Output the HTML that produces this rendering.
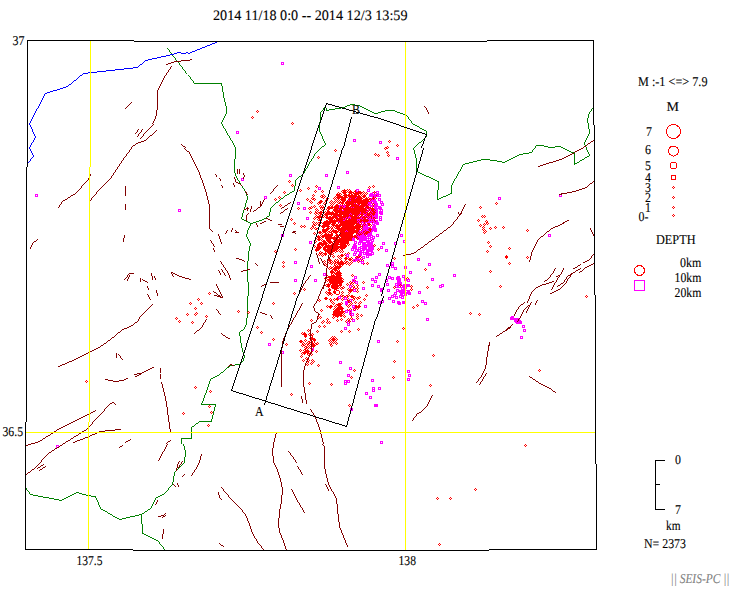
<!DOCTYPE html><html><head><meta charset="utf-8"><title>SEIS-PC</title>
<style>html,body{margin:0;padding:0;background:#fff}body{width:751px;height:593px;overflow:hidden;position:relative;font-family:"Liberation Serif",serif}svg{position:absolute;left:0;top:0}text{font-family:"Liberation Serif",serif;fill:#000;stroke:#000;stroke-width:0.1px;text-rendering:geometricPrecision}</style></head><body>
<svg width="751" height="593" viewBox="0 0 751 593">
<defs><path id="d" d="M0-1h1v1h-1zM-1 0h1v1h-1zM1 0h1v1h-1zM0 1h1v1h-1z"/><path id="s" d="M-1-1h3v1h-3zM-1 1h3v1h-3zM-1 0h1v1h-1zM1 0h1v1h-1z"/></defs>
<rect width="751" height="593" fill="#fff"/>
<path d="M30 494h3v1h-3zM33 495h5v1h-5zM38 496h5v1h-5zM43 497h6v1h-6zM49 498h5v1h-5zM54 499h5v1h-5zM59 500h3v1h-3zM62 499h2v1h-2zM64 498h2v1h-2zM66 497h2v1h-2zM68 496h2v1h-2zM70 495h2v1h-2zM72 494h2v1h-2zM74 493h2v1h-2zM76 492h3v1h-3zM79 493h3v1h-3zM82 494h4v1h-4zM86 495h5v1h-5zM91 496h5v1h-5zM101 509h2v1h-2zM103 510h2v1h-2zM105 511h2v1h-2zM108 513h2v1h-2zM110 514h2v1h-2zM113 516h2v1h-2zM115 517h2v1h-2zM117 518h2v1h-2zM119 519h3v1h-3zM122 518h4v1h-4zM126 517h4v1h-4zM130 516h5v1h-5zM135 515h4v1h-4zM139 514h3v1h-3zM142 513h2v1h-2zM142 533h2v1h-2zM144 534h2v1h-2zM145 511h2v1h-2zM146 535h2v1h-2zM148 509h2v1h-2zM148 536h2v1h-2zM150 537h2v1h-2zM152 538h2v1h-2zM154 539h2v1h-2zM156 497h2v1h-2zM156 540h2v1h-2zM158 496h2v1h-2zM160 495h2v1h-2zM162 494h2v1h-2zM181 438h11v1h-11zM192 426h2v1h-2zM194 83h28v1h-28zM196 423h2v1h-2zM199 421h13v1h-13zM201 404h15v1h-15zM211 378h2v1h-2zM213 377h2v1h-2zM215 376h2v1h-2zM217 375h2v1h-2zM221 372h2v1h-2zM227 367h2v1h-2zM230 365h5v1h-5zM235 364h5v1h-5zM241 330h2v1h-2zM242 219h2v1h-2zM244 220h2v1h-2zM246 221h2v1h-2zM248 222h2v1h-2zM250 223h3v1h-3zM253 222h3v1h-3zM256 221h3v1h-3zM259 220h3v1h-3zM262 219h2v1h-2zM264 218h2v1h-2zM267 216h2v1h-2zM276 202h2v1h-2zM281 198h2v1h-2zM285 195h2v1h-2zM287 194h2v1h-2zM290 192h2v1h-2zM292 191h2v1h-2zM299 176h2v1h-2zM322 146h2v1h-2zM324 107h2v1h-2zM326 110h3v1h-3zM329 109h6v1h-6zM335 108h6v1h-6zM341 107h4v1h-4zM345 106h2v1h-2zM347 105h3v1h-3zM350 104h5v1h-5zM355 105h5v1h-5zM360 106h2v1h-2zM362 107h2v1h-2zM364 108h2v1h-2zM366 109h2v1h-2zM368 110h2v1h-2zM370 111h2v1h-2zM372 112h2v1h-2zM374 113h4v1h-4zM378 112h3v1h-3zM381 111h4v1h-4zM385 110h10v1h-10zM395 111h2v1h-2zM397 112h3v1h-3zM400 113h3v1h-3zM403 114h2v1h-2zM405 115h2v1h-2zM413 124h2v1h-2zM415 125h2v1h-2zM416 171h2v1h-2zM417 126h2v1h-2zM418 172h2v1h-2zM419 142h2v1h-2zM420 128h2v1h-2zM420 173h2v1h-2zM422 129h2v1h-2zM422 174h2v1h-2zM424 130h2v1h-2zM424 175h2v1h-2zM426 176h3v1h-3zM429 177h2v1h-2zM431 178h2v1h-2zM433 179h2v1h-2zM435 180h2v1h-2zM437 181h2v1h-2zM437 199h2v1h-2zM439 198h2v1h-2zM441 197h2v1h-2zM443 196h3v1h-3zM446 195h2v1h-2zM448 194h2v1h-2zM450 193h2v1h-2zM463 164h2v1h-2zM465 163h4v1h-4zM469 162h4v1h-4zM473 161h4v1h-4zM477 160h4v1h-4zM481 159h9v1h-9zM490 160h7v1h-7zM497 161h5v1h-5zM502 162h3v1h-3zM505 161h2v1h-2zM507 160h2v1h-2zM509 159h2v1h-2zM511 158h2v1h-2zM513 157h2v1h-2zM515 156h2v1h-2zM517 155h2v1h-2zM519 154h4v1h-4zM523 153h6v1h-6zM529 152h3v1h-3zM536 145h8v1h-8zM544 146h4v1h-4zM548 147h7v1h-7zM555 146h6v1h-6zM561 147h2v1h-2zM563 148h2v1h-2zM565 149h2v1h-2zM567 150h2v1h-2zM569 151h2v1h-2zM571 152h4v1h-4zM574 163h3v1h-3zM577 162h2v1h-2zM580 160h2v1h-2zM582 159h2v1h-2zM585 157h2v1h-2zM587 156h2v1h-2zM25 487h1v1h-1zM26 488h1v2h-1zM27 490h1v1h-1zM28 491h1v1h-1zM29 492h1v2h-1zM95 497h1v1h-1zM96 498h1v2h-1zM97 500h1v2h-1zM98 502h1v3h-1zM99 505h1v2h-1zM100 507h1v2h-1zM107 512h1v1h-1zM112 515h1v1h-1zM141 515h1v9h-1zM142 524h1v9h-1zM144 512h1v1h-1zM147 510h1v1h-1zM150 508h1v1h-1zM151 506h1v2h-1zM152 504h1v2h-1zM153 502h1v2h-1zM154 500h1v2h-1zM155 498h1v2h-1zM158 541h1v1h-1zM159 542h1v2h-1zM160 544h1v1h-1zM161 545h1v1h-1zM162 546h1v1h-1zM163 547h1v2h-1zM164 493h1v1h-1zM164 549h1v1h-1zM165 492h1v1h-1zM165 550h1v1h-1zM166 491h1v1h-1zM167 48h1v1h-1zM167 490h1v1h-1zM168 49h1v1h-1zM168 488h1v2h-1zM169 50h1v2h-1zM169 487h1v1h-1zM170 52h1v1h-1zM170 486h1v1h-1zM171 53h1v1h-1zM171 485h1v1h-1zM172 54h1v2h-1zM172 482h1v3h-1zM173 56h1v1h-1zM173 476h1v6h-1zM174 57h1v1h-1zM174 472h1v4h-1zM175 58h1v2h-1zM175 471h1v1h-1zM176 60h1v1h-1zM176 470h1v1h-1zM177 61h1v1h-1zM177 469h1v1h-1zM178 62h1v1h-1zM178 468h1v1h-1zM179 63h1v2h-1zM179 467h1v1h-1zM180 65h1v1h-1zM180 466h1v1h-1zM181 66h1v1h-1zM181 439h1v5h-1zM181 465h1v1h-1zM182 67h1v2h-1zM182 464h1v1h-1zM183 69h1v1h-1zM183 444h1v2h-1zM183 463h1v1h-1zM184 70h1v1h-1zM184 446h1v4h-1zM184 457h1v6h-1zM185 71h1v2h-1zM185 450h1v7h-1zM186 73h1v1h-1zM188 75h1v1h-1zM189 76h1v1h-1zM190 77h1v2h-1zM191 79h1v1h-1zM191 427h1v11h-1zM192 80h1v1h-1zM193 81h1v2h-1zM194 425h1v1h-1zM195 424h1v1h-1zM198 422h1v1h-1zM201 403h1v1h-1zM202 401h1v2h-1zM203 398h1v3h-1zM204 395h1v3h-1zM205 393h1v2h-1zM206 390h1v3h-1zM207 387h1v3h-1zM208 384h1v3h-1zM209 381h1v3h-1zM210 379h1v2h-1zM211 419h1v2h-1zM212 415h1v4h-1zM213 411h1v4h-1zM214 407h1v4h-1zM215 405h1v2h-1zM219 374h1v1h-1zM220 373h1v1h-1zM221 84h1v2h-1zM221 122h1v2h-1zM222 86h1v6h-1zM222 120h1v2h-1zM222 124h1v2h-1zM223 92h1v6h-1zM223 118h1v2h-1zM223 126h1v2h-1zM223 371h1v1h-1zM224 98h1v4h-1zM224 116h1v2h-1zM224 128h1v1h-1zM224 370h1v1h-1zM225 102h1v4h-1zM225 114h1v2h-1zM225 129h1v2h-1zM225 369h1v1h-1zM226 106h1v8h-1zM226 131h1v2h-1zM226 368h1v1h-1zM227 133h1v2h-1zM228 135h1v1h-1zM229 136h1v2h-1zM229 366h1v1h-1zM230 138h1v2h-1zM231 140h1v1h-1zM232 141h1v2h-1zM233 143h1v2h-1zM234 145h1v2h-1zM234 159h1v14h-1zM235 147h1v12h-1zM235 173h1v3h-1zM236 176h1v2h-1zM237 178h1v2h-1zM238 180h1v1h-1zM239 181h1v2h-1zM239 332h1v4h-1zM240 183h1v2h-1zM240 331h1v1h-1zM240 336h1v7h-1zM240 363h1v1h-1zM241 185h1v1h-1zM241 217h1v2h-1zM241 343h1v5h-1zM241 362h1v1h-1zM242 186h1v2h-1zM242 213h1v4h-1zM242 348h1v4h-1zM242 361h1v1h-1zM243 188h1v1h-1zM243 210h1v3h-1zM243 329h1v1h-1zM243 352h1v3h-1zM243 358h1v3h-1zM244 189h1v2h-1zM244 207h1v3h-1zM244 327h1v2h-1zM244 355h1v3h-1zM245 191h1v2h-1zM245 203h1v4h-1zM245 325h1v2h-1zM246 193h1v3h-1zM246 200h1v3h-1zM246 234h1v3h-1zM246 318h1v7h-1zM247 196h1v4h-1zM247 230h1v4h-1zM247 237h1v2h-1zM247 261h1v21h-1zM247 296h1v22h-1zM248 228h1v2h-1zM248 239h1v2h-1zM248 251h1v10h-1zM248 282h1v14h-1zM249 226h1v2h-1zM249 241h1v2h-1zM249 246h1v5h-1zM250 224h1v2h-1zM250 243h1v3h-1zM266 217h1v1h-1zM269 212h1v4h-1zM270 208h1v4h-1zM271 207h1v1h-1zM272 206h1v1h-1zM273 205h1v1h-1zM274 204h1v1h-1zM275 203h1v1h-1zM278 201h1v1h-1zM279 200h1v1h-1zM280 199h1v1h-1zM283 197h1v1h-1zM284 196h1v1h-1zM289 193h1v1h-1zM294 186h1v5h-1zM295 180h1v6h-1zM296 179h1v1h-1zM297 178h1v1h-1zM298 177h1v1h-1zM301 175h1v1h-1zM302 174h1v1h-1zM303 173h1v1h-1zM304 171h1v2h-1zM305 169h1v2h-1zM306 168h1v1h-1zM307 166h1v2h-1zM308 164h1v2h-1zM309 162h1v2h-1zM310 161h1v1h-1zM311 159h1v2h-1zM312 158h1v1h-1zM313 156h1v2h-1zM314 154h1v2h-1zM315 153h1v1h-1zM316 152h1v1h-1zM317 151h1v1h-1zM318 150h1v1h-1zM319 122h1v10h-1zM319 149h1v1h-1zM320 112h1v10h-1zM320 132h1v2h-1zM320 148h1v1h-1zM321 111h1v1h-1zM321 134h1v2h-1zM321 147h1v1h-1zM322 110h1v1h-1zM322 136h1v3h-1zM323 108h1v2h-1zM323 139h1v2h-1zM324 141h1v2h-1zM324 145h1v1h-1zM325 106h1v1h-1zM325 143h1v2h-1zM326 108h1v2h-1zM407 116h1v1h-1zM408 117h1v2h-1zM409 119h1v1h-1zM410 120h1v1h-1zM411 121h1v2h-1zM412 123h1v1h-1zM413 148h1v2h-1zM414 147h1v1h-1zM414 150h1v4h-1zM415 146h1v1h-1zM415 154h1v4h-1zM416 145h1v1h-1zM416 158h1v13h-1zM417 144h1v1h-1zM418 143h1v1h-1zM419 127h1v1h-1zM421 141h1v1h-1zM422 140h1v1h-1zM423 139h1v1h-1zM424 138h1v1h-1zM425 137h1v1h-1zM426 131h1v6h-1zM437 190h1v9h-1zM438 182h1v8h-1zM451 185h1v8h-1zM452 183h1v2h-1zM453 181h1v2h-1zM454 179h1v2h-1zM455 178h1v1h-1zM456 176h1v2h-1zM457 174h1v2h-1zM458 172h1v2h-1zM459 171h1v1h-1zM460 169h1v2h-1zM461 167h1v2h-1zM462 165h1v2h-1zM532 150h1v2h-1zM533 149h1v1h-1zM534 148h1v1h-1zM535 146h1v2h-1zM574 153h1v10h-1zM574 164h1v1h-1zM579 161h1v1h-1zM584 142h1v3h-1zM584 158h1v1h-1zM585 140h1v2h-1zM585 145h1v2h-1zM586 138h1v2h-1zM586 147h1v3h-1zM587 118h1v5h-1zM587 136h1v2h-1zM587 150h1v2h-1zM588 114h1v4h-1zM588 123h1v6h-1zM588 134h1v2h-1zM588 152h1v2h-1zM589 112h1v2h-1zM589 129h1v5h-1zM589 154h1v2h-1zM590 111h1v1h-1zM591 109h1v2h-1zM592 108h1v1h-1zM593 107h1v1h-1z" fill="#008000" shape-rendering="crispEdges"/>
<path d="M45 93h2v1h-2zM47 92h3v1h-3zM50 91h3v1h-3zM53 90h4v1h-4zM57 89h3v1h-3zM60 88h3v1h-3zM63 87h3v1h-3zM66 86h2v1h-2zM69 84h2v1h-2zM74 80h2v1h-2zM80 75h2v1h-2zM83 73h5v1h-5zM88 72h9v1h-9zM97 71h9v1h-9zM106 70h9v1h-9zM115 69h9v1h-9zM124 68h9v1h-9zM133 67h5v1h-5zM140 64h2v1h-2zM145 60h3v1h-3zM148 59h4v1h-4zM152 58h5v1h-5zM157 57h4v1h-4zM161 56h5v1h-5zM166 55h4v1h-4zM170 54h4v1h-4zM174 53h3v1h-3zM177 52h4v1h-4zM181 53h5v1h-5zM186 52h2v1h-2zM188 53h2v1h-2zM190 52h2v1h-2zM192 51h3v1h-3zM195 50h2v1h-2zM197 49h3v1h-3zM200 48h2v1h-2zM202 47h3v1h-3zM205 46h2v1h-2zM207 45h3v1h-3zM210 44h2v1h-2zM212 43h3v1h-3zM215 42h2v1h-2zM217 41h2v1h-2zM27 163h1v1h-1zM28 162h1v1h-1zM29 123h1v2h-1zM29 147h1v2h-1zM29 161h1v1h-1zM30 121h1v2h-1zM30 125h1v2h-1zM30 145h1v2h-1zM30 149h1v2h-1zM30 159h1v2h-1zM31 119h1v2h-1zM31 127h1v2h-1zM31 143h1v2h-1zM31 151h1v2h-1zM31 158h1v1h-1zM32 117h1v2h-1zM32 129h1v3h-1zM32 142h1v1h-1zM32 153h1v2h-1zM32 157h1v1h-1zM33 115h1v2h-1zM33 132h1v2h-1zM33 140h1v2h-1zM33 155h1v2h-1zM34 113h1v2h-1zM34 134h1v2h-1zM34 138h1v2h-1zM35 111h1v2h-1zM35 136h1v2h-1zM36 109h1v2h-1zM37 108h1v1h-1zM38 106h1v2h-1zM39 104h1v2h-1zM40 102h1v2h-1zM41 100h1v2h-1zM42 98h1v2h-1zM43 96h1v2h-1zM44 94h1v2h-1zM68 85h1v1h-1zM71 83h1v1h-1zM72 82h1v1h-1zM73 81h1v1h-1zM76 79h1v1h-1zM77 78h1v1h-1zM78 77h1v1h-1zM79 76h1v1h-1zM82 74h1v1h-1zM138 66h1v1h-1zM139 65h1v1h-1zM142 63h1v1h-1zM143 62h1v1h-1zM144 61h1v1h-1z" fill="#0000ff" shape-rendering="crispEdges"/>
<g fill="#ff0000"><use href="#d" x="344" y="191"/><use href="#d" x="352" y="230"/><use href="#d" x="347" y="202"/><use href="#d" x="368" y="201"/><use href="#d" x="365" y="228"/><use href="#d" x="358" y="212"/><use href="#d" x="350" y="191"/><use href="#d" x="358" y="230"/><use href="#d" x="334" y="238"/><use href="#d" x="339" y="201"/><use href="#d" x="336" y="243"/><use href="#d" x="326" y="229"/><use href="#d" x="324" y="248"/><use href="#d" x="345" y="233"/><use href="#d" x="329" y="249"/><use href="#d" x="363" y="204"/><use href="#d" x="333" y="208"/><use href="#d" x="344" y="244"/><use href="#d" x="358" y="197"/><use href="#d" x="334" y="287"/><use href="#d" x="337" y="230"/><use href="#d" x="328" y="207"/><use href="#d" x="328" y="251"/><use href="#d" x="324" y="196"/><use href="#d" x="350" y="230"/><use href="#d" x="339" y="208"/><use href="#d" x="338" y="193"/><use href="#d" x="302" y="345"/><use href="#d" x="336" y="281"/><use href="#d" x="338" y="247"/><use href="#d" x="329" y="222"/><use href="#d" x="334" y="215"/><use href="#d" x="340" y="313"/><use href="#d" x="367" y="220"/><use href="#d" x="369" y="215"/><use href="#d" x="359" y="200"/><use href="#d" x="340" y="205"/><use href="#d" x="342" y="229"/><use href="#d" x="324" y="222"/><use href="#d" x="340" y="215"/><use href="#d" x="355" y="216"/><use href="#d" x="346" y="229"/><use href="#d" x="357" y="220"/><use href="#d" x="352" y="208"/><use href="#d" x="346" y="240"/><use href="#d" x="326" y="298"/><use href="#d" x="339" y="221"/><use href="#d" x="305" y="352"/><use href="#d" x="367" y="230"/><use href="#d" x="332" y="341"/><use href="#d" x="340" y="203"/><use href="#d" x="337" y="306"/><use href="#d" x="357" y="195"/><use href="#d" x="353" y="232"/><use href="#d" x="306" y="358"/><use href="#d" x="323" y="229"/><use href="#d" x="344" y="198"/><use href="#d" x="335" y="215"/><use href="#d" x="356" y="194"/><use href="#d" x="341" y="331"/><use href="#d" x="353" y="221"/><use href="#d" x="337" y="276"/><use href="#d" x="340" y="217"/><use href="#d" x="346" y="210"/><use href="#d" x="354" y="202"/><use href="#d" x="336" y="285"/><use href="#d" x="324" y="263"/><use href="#d" x="340" y="215"/><use href="#d" x="329" y="237"/><use href="#d" x="359" y="208"/><use href="#d" x="333" y="286"/><use href="#d" x="363" y="233"/><use href="#d" x="339" y="264"/><use href="#d" x="368" y="223"/><use href="#d" x="354" y="196"/><use href="#d" x="344" y="316"/><use href="#d" x="334" y="245"/><use href="#d" x="345" y="246"/><use href="#d" x="351" y="227"/><use href="#d" x="330" y="247"/><use href="#d" x="340" y="205"/><use href="#d" x="359" y="197"/><use href="#d" x="371" y="218"/><use href="#d" x="312" y="338"/><use href="#d" x="329" y="247"/><use href="#d" x="352" y="223"/><use href="#d" x="331" y="213"/><use href="#d" x="321" y="201"/><use href="#d" x="370" y="205"/><use href="#d" x="303" y="343"/><use href="#d" x="339" y="223"/><use href="#d" x="344" y="223"/><use href="#d" x="349" y="217"/><use href="#d" x="362" y="217"/><use href="#d" x="335" y="311"/><use href="#d" x="347" y="203"/><use href="#d" x="350" y="209"/><use href="#d" x="374" y="213"/><use href="#d" x="320" y="213"/><use href="#d" x="375" y="198"/><use href="#d" x="358" y="223"/><use href="#d" x="335" y="210"/><use href="#d" x="330" y="307"/><use href="#d" x="336" y="286"/><use href="#d" x="336" y="212"/><use href="#d" x="325" y="234"/><use href="#d" x="344" y="195"/><use href="#d" x="350" y="237"/><use href="#d" x="333" y="242"/><use href="#d" x="302" y="353"/><use href="#d" x="353" y="229"/><use href="#d" x="345" y="245"/><use href="#d" x="350" y="237"/><use href="#d" x="370" y="225"/><use href="#d" x="342" y="243"/><use href="#d" x="355" y="193"/><use href="#d" x="344" y="220"/><use href="#d" x="329" y="218"/><use href="#d" x="347" y="212"/><use href="#d" x="356" y="232"/><use href="#d" x="339" y="280"/><use href="#d" x="353" y="230"/><use href="#d" x="335" y="231"/><use href="#d" x="310" y="212"/><use href="#d" x="328" y="252"/><use href="#d" x="304" y="350"/><use href="#d" x="341" y="208"/><use href="#d" x="357" y="200"/><use href="#d" x="338" y="313"/><use href="#d" x="344" y="224"/><use href="#d" x="342" y="217"/><use href="#d" x="357" y="195"/><use href="#d" x="344" y="198"/><use href="#d" x="335" y="275"/><use href="#d" x="360" y="236"/><use href="#d" x="342" y="199"/><use href="#d" x="340" y="251"/><use href="#d" x="329" y="340"/><use href="#d" x="318" y="217"/><use href="#d" x="363" y="201"/><use href="#d" x="313" y="345"/><use href="#d" x="327" y="209"/><use href="#d" x="338" y="270"/><use href="#d" x="355" y="191"/><use href="#d" x="346" y="230"/><use href="#d" x="366" y="208"/><use href="#d" x="356" y="228"/><use href="#d" x="334" y="214"/><use href="#d" x="344" y="230"/><use href="#d" x="360" y="208"/><use href="#d" x="366" y="207"/><use href="#d" x="335" y="275"/><use href="#d" x="368" y="224"/><use href="#d" x="328" y="235"/><use href="#d" x="358" y="220"/><use href="#d" x="301" y="356"/><use href="#d" x="351" y="215"/><use href="#d" x="338" y="241"/><use href="#d" x="343" y="200"/><use href="#d" x="342" y="308"/><use href="#d" x="327" y="228"/><use href="#d" x="372" y="206"/><use href="#d" x="337" y="195"/><use href="#d" x="336" y="215"/><use href="#d" x="335" y="248"/><use href="#d" x="332" y="212"/><use href="#d" x="328" y="234"/><use href="#d" x="350" y="215"/><use href="#d" x="337" y="219"/><use href="#d" x="323" y="208"/><use href="#d" x="307" y="348"/><use href="#d" x="341" y="238"/><use href="#d" x="348" y="213"/><use href="#d" x="351" y="236"/><use href="#d" x="321" y="208"/><use href="#d" x="341" y="199"/><use href="#d" x="347" y="216"/><use href="#d" x="356" y="201"/><use href="#d" x="355" y="221"/><use href="#d" x="364" y="202"/><use href="#d" x="357" y="235"/><use href="#d" x="344" y="232"/><use href="#d" x="346" y="236"/><use href="#d" x="304" y="334"/><use href="#d" x="348" y="214"/><use href="#d" x="353" y="197"/><use href="#d" x="336" y="305"/><use href="#d" x="320" y="212"/><use href="#d" x="345" y="213"/><use href="#d" x="346" y="230"/><use href="#d" x="338" y="217"/><use href="#d" x="364" y="214"/><use href="#d" x="344" y="212"/><use href="#d" x="338" y="208"/><use href="#d" x="352" y="208"/><use href="#d" x="317" y="210"/><use href="#d" x="356" y="258"/><use href="#d" x="337" y="209"/><use href="#d" x="358" y="236"/><use href="#d" x="337" y="269"/><use href="#d" x="370" y="220"/><use href="#d" x="367" y="225"/><use href="#d" x="337" y="225"/><use href="#d" x="341" y="199"/><use href="#d" x="337" y="235"/><use href="#d" x="329" y="277"/><use href="#d" x="343" y="217"/><use href="#d" x="328" y="250"/><use href="#d" x="331" y="246"/><use href="#d" x="344" y="227"/><use href="#d" x="367" y="203"/><use href="#d" x="357" y="234"/><use href="#d" x="329" y="237"/><use href="#d" x="339" y="240"/><use href="#d" x="346" y="230"/><use href="#d" x="308" y="342"/><use href="#d" x="334" y="316"/><use href="#d" x="343" y="229"/><use href="#d" x="315" y="224"/><use href="#d" x="328" y="226"/><use href="#d" x="350" y="192"/><use href="#d" x="351" y="209"/><use href="#d" x="350" y="239"/><use href="#d" x="330" y="250"/><use href="#d" x="323" y="230"/><use href="#d" x="350" y="229"/><use href="#d" x="327" y="226"/><use href="#d" x="365" y="234"/><use href="#d" x="329" y="262"/><use href="#d" x="328" y="241"/><use href="#d" x="337" y="214"/><use href="#d" x="310" y="338"/><use href="#d" x="367" y="201"/><use href="#d" x="330" y="299"/><use href="#d" x="311" y="338"/><use href="#d" x="351" y="213"/><use href="#d" x="351" y="224"/><use href="#d" x="368" y="205"/><use href="#d" x="346" y="220"/><use href="#d" x="361" y="207"/><use href="#d" x="355" y="209"/><use href="#d" x="318" y="237"/><use href="#d" x="346" y="226"/><use href="#d" x="370" y="202"/><use href="#d" x="338" y="313"/><use href="#d" x="367" y="201"/><use href="#d" x="357" y="318"/><use href="#d" x="335" y="264"/><use href="#d" x="364" y="219"/><use href="#d" x="363" y="235"/><use href="#d" x="357" y="220"/><use href="#d" x="346" y="263"/><use href="#d" x="341" y="255"/><use href="#d" x="328" y="248"/><use href="#d" x="336" y="215"/><use href="#d" x="373" y="218"/><use href="#d" x="342" y="228"/><use href="#d" x="327" y="239"/><use href="#d" x="342" y="209"/><use href="#d" x="330" y="242"/><use href="#d" x="346" y="211"/><use href="#d" x="348" y="238"/><use href="#d" x="360" y="220"/><use href="#d" x="367" y="229"/><use href="#d" x="347" y="229"/><use href="#d" x="301" y="341"/><use href="#d" x="358" y="213"/><use href="#d" x="351" y="318"/><use href="#d" x="361" y="214"/><use href="#d" x="344" y="216"/><use href="#d" x="376" y="194"/><use href="#d" x="362" y="201"/><use href="#d" x="322" y="245"/><use href="#d" x="349" y="235"/><use href="#d" x="359" y="209"/><use href="#d" x="344" y="230"/><use href="#d" x="349" y="223"/><use href="#d" x="330" y="220"/><use href="#d" x="311" y="202"/><use href="#d" x="357" y="231"/><use href="#d" x="345" y="242"/><use href="#d" x="351" y="211"/><use href="#d" x="341" y="250"/><use href="#d" x="349" y="206"/><use href="#d" x="309" y="344"/><use href="#d" x="339" y="273"/><use href="#d" x="345" y="220"/><use href="#d" x="324" y="231"/><use href="#d" x="346" y="240"/><use href="#d" x="345" y="231"/><use href="#d" x="319" y="326"/><use href="#d" x="365" y="210"/><use href="#d" x="337" y="262"/><use href="#d" x="330" y="253"/><use href="#d" x="354" y="207"/><use href="#d" x="336" y="273"/><use href="#d" x="357" y="288"/><use href="#d" x="345" y="237"/><use href="#d" x="341" y="247"/><use href="#d" x="373" y="212"/><use href="#d" x="309" y="334"/><use href="#d" x="333" y="281"/><use href="#d" x="350" y="214"/><use href="#d" x="347" y="233"/><use href="#d" x="339" y="215"/><use href="#d" x="309" y="208"/><use href="#d" x="331" y="306"/><use href="#d" x="362" y="220"/><use href="#d" x="348" y="244"/><use href="#d" x="300" y="341"/><use href="#d" x="307" y="352"/><use href="#d" x="363" y="209"/><use href="#d" x="344" y="206"/><use href="#d" x="373" y="213"/><use href="#d" x="339" y="228"/><use href="#d" x="363" y="215"/><use href="#d" x="348" y="236"/><use href="#d" x="339" y="221"/><use href="#d" x="328" y="228"/><use href="#d" x="327" y="225"/><use href="#d" x="328" y="250"/><use href="#d" x="334" y="198"/><use href="#d" x="336" y="205"/><use href="#d" x="349" y="192"/><use href="#d" x="345" y="223"/><use href="#d" x="337" y="260"/><use href="#d" x="350" y="230"/><use href="#d" x="338" y="275"/><use href="#d" x="342" y="248"/><use href="#d" x="352" y="214"/><use href="#d" x="336" y="278"/><use href="#d" x="341" y="315"/><use href="#d" x="348" y="221"/><use href="#d" x="366" y="214"/><use href="#d" x="348" y="221"/><use href="#d" x="363" y="222"/><use href="#d" x="342" y="232"/></g><g fill="#ff00ff"><use href="#s" x="357" y="259"/><use href="#s" x="366" y="214"/><use href="#s" x="367" y="245"/><use href="#s" x="371" y="207"/><use href="#s" x="355" y="197"/><use href="#s" x="359" y="248"/><use href="#s" x="363" y="212"/><use href="#s" x="408" y="285"/><use href="#s" x="368" y="241"/><use href="#s" x="357" y="216"/><use href="#s" x="401" y="292"/><use href="#s" x="360" y="235"/><use href="#s" x="367" y="251"/><use href="#s" x="365" y="216"/><use href="#s" x="365" y="227"/><use href="#s" x="372" y="247"/><use href="#s" x="364" y="231"/><use href="#s" x="369" y="254"/><use href="#s" x="343" y="212"/><use href="#s" x="360" y="260"/><use href="#s" x="366" y="216"/><use href="#s" x="375" y="206"/><use href="#s" x="374" y="201"/><use href="#s" x="375" y="216"/><use href="#s" x="371" y="209"/><use href="#s" x="339" y="221"/><use href="#s" x="405" y="279"/><use href="#s" x="369" y="237"/><use href="#s" x="359" y="255"/><use href="#s" x="372" y="199"/><use href="#s" x="365" y="245"/><use href="#s" x="371" y="230"/><use href="#s" x="392" y="278"/><use href="#s" x="398" y="283"/><use href="#s" x="376" y="209"/><use href="#s" x="346" y="206"/><use href="#s" x="379" y="195"/><use href="#s" x="370" y="250"/><use href="#s" x="369" y="229"/><use href="#s" x="355" y="199"/><use href="#s" x="361" y="241"/><use href="#s" x="373" y="197"/><use href="#s" x="361" y="207"/><use href="#s" x="371" y="213"/><use href="#s" x="404" y="287"/><use href="#s" x="373" y="193"/><use href="#s" x="376" y="211"/><use href="#s" x="366" y="212"/><use href="#s" x="353" y="238"/><use href="#s" x="401" y="293"/><use href="#s" x="376" y="221"/><use href="#s" x="355" y="246"/><use href="#s" x="373" y="210"/><use href="#s" x="406" y="291"/><use href="#s" x="364" y="253"/><use href="#s" x="351" y="208"/><use href="#s" x="368" y="233"/><use href="#s" x="370" y="254"/><use href="#s" x="395" y="293"/><use href="#s" x="365" y="247"/><use href="#s" x="367" y="230"/><use href="#s" x="362" y="223"/><use href="#s" x="339" y="220"/><use href="#s" x="368" y="204"/><use href="#s" x="377" y="223"/><use href="#s" x="353" y="201"/><use href="#s" x="370" y="234"/><use href="#s" x="368" y="220"/><use href="#s" x="407" y="285"/><use href="#s" x="366" y="235"/><use href="#s" x="355" y="252"/><use href="#s" x="380" y="217"/><use href="#s" x="397" y="278"/><use href="#s" x="375" y="203"/></g>
<g fill="#ff0000"><use href="#d" x="317" y="247"/><use href="#d" x="341" y="220"/><use href="#d" x="314" y="246"/><use href="#d" x="355" y="207"/><use href="#d" x="358" y="200"/><use href="#d" x="335" y="287"/><use href="#d" x="330" y="231"/><use href="#d" x="331" y="263"/><use href="#d" x="324" y="247"/><use href="#d" x="337" y="269"/><use href="#d" x="363" y="218"/><use href="#d" x="359" y="213"/><use href="#d" x="339" y="207"/><use href="#d" x="320" y="202"/><use href="#d" x="360" y="199"/><use href="#d" x="343" y="247"/><use href="#d" x="338" y="309"/><use href="#d" x="336" y="246"/><use href="#d" x="344" y="200"/><use href="#d" x="335" y="260"/><use href="#d" x="356" y="227"/><use href="#d" x="374" y="208"/><use href="#d" x="352" y="227"/><use href="#d" x="343" y="213"/><use href="#d" x="335" y="312"/><use href="#d" x="340" y="310"/><use href="#d" x="352" y="223"/><use href="#d" x="336" y="288"/><use href="#d" x="340" y="214"/><use href="#d" x="352" y="200"/><use href="#d" x="343" y="231"/><use href="#d" x="348" y="195"/><use href="#d" x="349" y="190"/><use href="#d" x="343" y="206"/><use href="#d" x="339" y="201"/><use href="#d" x="358" y="207"/><use href="#d" x="354" y="212"/><use href="#d" x="339" y="283"/><use href="#d" x="327" y="198"/><use href="#d" x="337" y="286"/><use href="#d" x="350" y="203"/><use href="#d" x="338" y="197"/><use href="#d" x="337" y="201"/><use href="#d" x="351" y="217"/><use href="#d" x="353" y="230"/><use href="#d" x="345" y="218"/><use href="#d" x="336" y="267"/><use href="#d" x="322" y="322"/><use href="#d" x="328" y="240"/><use href="#d" x="366" y="203"/><use href="#d" x="340" y="200"/><use href="#d" x="349" y="288"/><use href="#d" x="335" y="245"/><use href="#d" x="325" y="246"/><use href="#d" x="328" y="285"/><use href="#d" x="346" y="203"/><use href="#d" x="363" y="219"/><use href="#d" x="313" y="222"/><use href="#d" x="340" y="296"/><use href="#d" x="337" y="260"/><use href="#d" x="332" y="229"/><use href="#d" x="354" y="225"/><use href="#d" x="334" y="226"/><use href="#d" x="373" y="217"/><use href="#d" x="353" y="220"/><use href="#d" x="350" y="230"/><use href="#d" x="307" y="364"/><use href="#d" x="359" y="209"/><use href="#d" x="359" y="198"/><use href="#d" x="333" y="279"/><use href="#d" x="331" y="294"/><use href="#d" x="340" y="240"/><use href="#d" x="339" y="226"/><use href="#d" x="344" y="225"/><use href="#d" x="354" y="192"/><use href="#d" x="332" y="268"/><use href="#d" x="340" y="273"/><use href="#d" x="325" y="236"/><use href="#d" x="336" y="235"/><use href="#d" x="342" y="218"/><use href="#d" x="339" y="272"/><use href="#d" x="329" y="292"/><use href="#d" x="345" y="243"/><use href="#d" x="314" y="206"/><use href="#d" x="340" y="315"/><use href="#d" x="343" y="243"/><use href="#d" x="370" y="221"/><use href="#d" x="333" y="231"/><use href="#d" x="372" y="209"/><use href="#d" x="341" y="308"/><use href="#d" x="318" y="239"/><use href="#d" x="347" y="230"/><use href="#d" x="362" y="228"/><use href="#d" x="345" y="261"/><use href="#d" x="349" y="239"/><use href="#d" x="356" y="306"/><use href="#d" x="341" y="212"/><use href="#d" x="366" y="205"/><use href="#d" x="333" y="223"/><use href="#d" x="365" y="219"/><use href="#d" x="360" y="257"/><use href="#d" x="355" y="226"/><use href="#d" x="349" y="212"/><use href="#d" x="329" y="280"/><use href="#d" x="352" y="223"/><use href="#d" x="360" y="223"/><use href="#d" x="362" y="209"/><use href="#d" x="346" y="209"/><use href="#d" x="355" y="193"/><use href="#d" x="348" y="240"/><use href="#d" x="328" y="243"/><use href="#d" x="341" y="295"/><use href="#d" x="327" y="306"/><use href="#d" x="341" y="242"/><use href="#d" x="333" y="303"/><use href="#d" x="332" y="251"/><use href="#d" x="338" y="247"/><use href="#d" x="353" y="289"/><use href="#d" x="341" y="221"/><use href="#d" x="333" y="223"/><use href="#d" x="354" y="211"/><use href="#d" x="346" y="218"/><use href="#d" x="317" y="331"/><use href="#d" x="327" y="247"/><use href="#d" x="349" y="226"/><use href="#d" x="358" y="256"/><use href="#d" x="345" y="232"/><use href="#d" x="365" y="203"/><use href="#d" x="330" y="281"/><use href="#d" x="337" y="320"/><use href="#d" x="331" y="280"/><use href="#d" x="325" y="212"/><use href="#d" x="331" y="223"/><use href="#d" x="328" y="249"/><use href="#d" x="340" y="284"/><use href="#d" x="348" y="224"/><use href="#d" x="352" y="210"/><use href="#d" x="332" y="285"/><use href="#d" x="330" y="246"/><use href="#d" x="354" y="204"/><use href="#d" x="358" y="306"/><use href="#d" x="317" y="229"/><use href="#d" x="349" y="221"/><use href="#d" x="356" y="218"/><use href="#d" x="355" y="196"/><use href="#d" x="336" y="226"/><use href="#d" x="320" y="220"/><use href="#d" x="344" y="246"/><use href="#d" x="338" y="197"/><use href="#d" x="367" y="221"/><use href="#d" x="327" y="228"/><use href="#d" x="346" y="236"/><use href="#d" x="364" y="209"/><use href="#d" x="334" y="202"/><use href="#d" x="338" y="221"/><use href="#d" x="328" y="245"/><use href="#d" x="323" y="241"/><use href="#d" x="332" y="286"/><use href="#d" x="336" y="280"/><use href="#d" x="342" y="217"/><use href="#d" x="327" y="319"/><use href="#d" x="342" y="312"/><use href="#d" x="324" y="242"/><use href="#d" x="328" y="294"/><use href="#d" x="344" y="228"/><use href="#d" x="342" y="231"/><use href="#d" x="361" y="213"/><use href="#d" x="336" y="309"/><use href="#d" x="332" y="276"/><use href="#d" x="333" y="284"/><use href="#d" x="310" y="341"/><use href="#d" x="351" y="212"/><use href="#d" x="346" y="227"/><use href="#d" x="368" y="201"/><use href="#d" x="325" y="235"/><use href="#d" x="358" y="225"/><use href="#d" x="346" y="258"/><use href="#d" x="307" y="346"/><use href="#d" x="372" y="214"/><use href="#d" x="336" y="214"/><use href="#d" x="328" y="286"/><use href="#d" x="337" y="241"/><use href="#d" x="330" y="254"/><use href="#d" x="361" y="210"/><use href="#d" x="333" y="219"/><use href="#d" x="332" y="221"/><use href="#d" x="331" y="281"/><use href="#d" x="341" y="219"/><use href="#d" x="330" y="278"/><use href="#d" x="329" y="250"/><use href="#d" x="353" y="206"/><use href="#d" x="354" y="203"/><use href="#d" x="371" y="220"/><use href="#d" x="358" y="199"/><use href="#d" x="349" y="292"/><use href="#d" x="355" y="207"/><use href="#d" x="334" y="262"/><use href="#d" x="346" y="241"/><use href="#d" x="330" y="277"/><use href="#d" x="324" y="225"/><use href="#d" x="350" y="219"/><use href="#d" x="312" y="340"/><use href="#d" x="335" y="283"/><use href="#d" x="334" y="278"/><use href="#d" x="339" y="305"/><use href="#d" x="327" y="198"/><use href="#d" x="336" y="244"/><use href="#d" x="333" y="224"/><use href="#d" x="360" y="217"/><use href="#d" x="339" y="313"/><use href="#d" x="342" y="247"/><use href="#d" x="325" y="247"/><use href="#d" x="344" y="217"/><use href="#d" x="304" y="333"/><use href="#d" x="333" y="277"/><use href="#d" x="365" y="194"/><use href="#d" x="357" y="225"/><use href="#d" x="331" y="235"/><use href="#d" x="340" y="313"/><use href="#d" x="324" y="249"/><use href="#d" x="307" y="343"/><use href="#d" x="339" y="279"/><use href="#d" x="362" y="212"/><use href="#d" x="361" y="203"/><use href="#d" x="342" y="218"/><use href="#d" x="355" y="229"/><use href="#d" x="363" y="202"/><use href="#d" x="347" y="236"/><use href="#d" x="348" y="201"/><use href="#d" x="348" y="231"/><use href="#d" x="341" y="208"/><use href="#d" x="347" y="242"/><use href="#d" x="365" y="209"/><use href="#d" x="369" y="222"/><use href="#d" x="339" y="248"/><use href="#d" x="340" y="242"/><use href="#d" x="365" y="217"/><use href="#d" x="330" y="213"/><use href="#d" x="332" y="274"/><use href="#d" x="363" y="221"/><use href="#d" x="364" y="205"/><use href="#d" x="323" y="216"/><use href="#d" x="350" y="222"/><use href="#d" x="334" y="309"/><use href="#d" x="345" y="236"/><use href="#d" x="319" y="232"/><use href="#d" x="331" y="276"/><use href="#d" x="352" y="202"/><use href="#d" x="350" y="223"/><use href="#d" x="341" y="307"/><use href="#d" x="347" y="223"/><use href="#d" x="355" y="205"/><use href="#d" x="331" y="345"/><use href="#d" x="331" y="276"/><use href="#d" x="338" y="284"/><use href="#d" x="339" y="266"/><use href="#d" x="358" y="220"/><use href="#d" x="322" y="206"/><use href="#d" x="332" y="287"/><use href="#d" x="332" y="207"/><use href="#d" x="319" y="247"/><use href="#d" x="368" y="219"/><use href="#d" x="348" y="235"/><use href="#d" x="336" y="288"/><use href="#d" x="334" y="299"/><use href="#d" x="328" y="211"/><use href="#d" x="337" y="212"/><use href="#d" x="345" y="233"/><use href="#d" x="360" y="228"/><use href="#d" x="364" y="227"/><use href="#d" x="331" y="277"/><use href="#d" x="325" y="214"/><use href="#d" x="342" y="227"/><use href="#d" x="348" y="215"/><use href="#d" x="335" y="342"/><use href="#d" x="352" y="226"/><use href="#d" x="342" y="312"/><use href="#d" x="330" y="217"/><use href="#d" x="348" y="306"/><use href="#d" x="358" y="201"/><use href="#d" x="328" y="245"/><use href="#d" x="355" y="191"/><use href="#d" x="348" y="200"/><use href="#d" x="359" y="192"/><use href="#d" x="371" y="217"/><use href="#d" x="361" y="225"/><use href="#d" x="307" y="350"/><use href="#d" x="345" y="243"/><use href="#d" x="336" y="248"/><use href="#d" x="337" y="278"/><use href="#d" x="366" y="193"/><use href="#d" x="360" y="204"/><use href="#d" x="352" y="210"/><use href="#d" x="313" y="346"/><use href="#d" x="333" y="286"/><use href="#d" x="318" y="244"/><use href="#d" x="327" y="250"/><use href="#d" x="340" y="229"/><use href="#d" x="360" y="218"/><use href="#d" x="314" y="343"/><use href="#d" x="340" y="194"/><use href="#d" x="360" y="198"/><use href="#d" x="334" y="249"/><use href="#d" x="325" y="224"/><use href="#d" x="306" y="349"/><use href="#d" x="322" y="211"/><use href="#d" x="339" y="226"/><use href="#d" x="304" y="352"/><use href="#d" x="366" y="206"/><use href="#d" x="339" y="308"/><use href="#d" x="350" y="312"/><use href="#d" x="326" y="237"/><use href="#d" x="355" y="207"/><use href="#d" x="326" y="214"/><use href="#d" x="337" y="207"/><use href="#d" x="337" y="282"/><use href="#d" x="371" y="212"/><use href="#d" x="350" y="220"/><use href="#d" x="328" y="232"/><use href="#d" x="332" y="279"/><use href="#d" x="337" y="281"/><use href="#d" x="343" y="240"/><use href="#d" x="356" y="205"/><use href="#d" x="345" y="211"/><use href="#d" x="343" y="241"/><use href="#d" x="352" y="197"/><use href="#d" x="334" y="221"/><use href="#d" x="323" y="226"/><use href="#d" x="334" y="210"/><use href="#d" x="348" y="223"/><use href="#d" x="365" y="197"/><use href="#d" x="355" y="302"/><use href="#d" x="344" y="229"/><use href="#d" x="353" y="204"/><use href="#d" x="332" y="244"/><use href="#d" x="356" y="221"/><use href="#d" x="359" y="306"/><use href="#d" x="331" y="249"/></g><g fill="#ff00ff"><use href="#s" x="369" y="239"/><use href="#s" x="358" y="205"/><use href="#s" x="376" y="222"/><use href="#s" x="359" y="237"/><use href="#s" x="338" y="217"/><use href="#s" x="404" y="286"/><use href="#s" x="371" y="204"/><use href="#s" x="362" y="236"/><use href="#s" x="369" y="230"/><use href="#s" x="376" y="214"/><use href="#s" x="367" y="241"/><use href="#s" x="363" y="230"/><use href="#s" x="381" y="213"/><use href="#s" x="362" y="251"/><use href="#s" x="375" y="222"/><use href="#s" x="369" y="231"/><use href="#s" x="353" y="203"/><use href="#s" x="370" y="214"/><use href="#s" x="399" y="279"/><use href="#s" x="362" y="232"/><use href="#s" x="360" y="254"/><use href="#s" x="363" y="257"/><use href="#s" x="356" y="215"/><use href="#s" x="369" y="203"/><use href="#s" x="370" y="232"/><use href="#s" x="365" y="246"/><use href="#s" x="350" y="215"/><use href="#s" x="369" y="216"/><use href="#s" x="403" y="276"/><use href="#s" x="404" y="289"/><use href="#s" x="404" y="285"/><use href="#s" x="400" y="291"/><use href="#s" x="350" y="221"/><use href="#s" x="373" y="237"/><use href="#s" x="374" y="221"/><use href="#s" x="372" y="248"/><use href="#s" x="364" y="243"/><use href="#s" x="377" y="192"/><use href="#s" x="346" y="231"/><use href="#s" x="361" y="239"/><use href="#s" x="362" y="223"/><use href="#s" x="359" y="243"/><use href="#s" x="381" y="202"/><use href="#s" x="371" y="236"/><use href="#s" x="372" y="240"/><use href="#s" x="362" y="218"/><use href="#s" x="373" y="196"/><use href="#s" x="359" y="219"/><use href="#s" x="356" y="250"/><use href="#s" x="358" y="233"/><use href="#s" x="400" y="296"/><use href="#s" x="376" y="217"/><use href="#s" x="371" y="221"/><use href="#s" x="369" y="229"/><use href="#s" x="403" y="286"/><use href="#s" x="355" y="247"/><use href="#s" x="370" y="244"/><use href="#s" x="358" y="231"/><use href="#s" x="381" y="210"/><use href="#s" x="364" y="228"/><use href="#s" x="360" y="253"/><use href="#s" x="375" y="202"/><use href="#s" x="359" y="235"/><use href="#s" x="517" y="320"/><use href="#s" x="369" y="218"/><use href="#s" x="398" y="281"/><use href="#s" x="350" y="218"/><use href="#s" x="365" y="238"/><use href="#s" x="371" y="243"/><use href="#s" x="353" y="228"/><use href="#s" x="372" y="229"/><use href="#s" x="365" y="228"/><use href="#s" x="342" y="209"/><use href="#s" x="363" y="235"/><use href="#s" x="366" y="223"/></g>
<g fill="#ff0000"><use href="#d" x="350" y="220"/><use href="#d" x="325" y="247"/><use href="#d" x="347" y="224"/><use href="#d" x="358" y="197"/><use href="#d" x="362" y="203"/><use href="#d" x="349" y="236"/><use href="#d" x="363" y="233"/><use href="#d" x="340" y="307"/><use href="#d" x="334" y="312"/><use href="#d" x="342" y="279"/><use href="#d" x="340" y="211"/><use href="#d" x="334" y="266"/><use href="#d" x="350" y="218"/><use href="#d" x="350" y="230"/><use href="#d" x="353" y="228"/><use href="#d" x="342" y="247"/><use href="#d" x="327" y="221"/><use href="#d" x="339" y="283"/><use href="#d" x="355" y="194"/><use href="#d" x="315" y="228"/><use href="#d" x="344" y="200"/><use href="#d" x="354" y="280"/><use href="#d" x="360" y="210"/><use href="#d" x="329" y="283"/><use href="#d" x="331" y="227"/><use href="#d" x="305" y="347"/><use href="#d" x="342" y="213"/><use href="#d" x="351" y="223"/><use href="#d" x="336" y="220"/><use href="#d" x="351" y="226"/><use href="#d" x="327" y="229"/><use href="#d" x="341" y="281"/><use href="#d" x="364" y="211"/><use href="#d" x="348" y="211"/><use href="#d" x="336" y="232"/><use href="#d" x="307" y="351"/><use href="#d" x="368" y="198"/><use href="#d" x="322" y="253"/><use href="#d" x="356" y="218"/><use href="#d" x="365" y="212"/><use href="#d" x="337" y="309"/><use href="#d" x="321" y="254"/><use href="#d" x="351" y="235"/><use href="#d" x="308" y="354"/><use href="#d" x="338" y="228"/><use href="#d" x="336" y="312"/><use href="#d" x="340" y="247"/><use href="#d" x="366" y="213"/><use href="#d" x="362" y="232"/><use href="#d" x="339" y="209"/><use href="#d" x="340" y="234"/><use href="#d" x="347" y="205"/><use href="#d" x="345" y="227"/><use href="#d" x="353" y="218"/><use href="#d" x="330" y="218"/><use href="#d" x="357" y="213"/><use href="#d" x="339" y="306"/><use href="#d" x="328" y="237"/><use href="#d" x="348" y="228"/><use href="#d" x="373" y="209"/><use href="#d" x="341" y="244"/><use href="#d" x="349" y="217"/><use href="#d" x="345" y="231"/><use href="#d" x="365" y="231"/><use href="#d" x="334" y="239"/><use href="#d" x="349" y="231"/><use href="#d" x="328" y="247"/><use href="#d" x="337" y="244"/><use href="#d" x="321" y="310"/><use href="#d" x="336" y="243"/><use href="#d" x="368" y="231"/><use href="#d" x="336" y="244"/><use href="#d" x="344" y="222"/><use href="#d" x="327" y="280"/><use href="#d" x="347" y="222"/><use href="#d" x="335" y="275"/><use href="#d" x="330" y="306"/><use href="#d" x="342" y="262"/><use href="#d" x="323" y="223"/><use href="#d" x="342" y="191"/><use href="#d" x="348" y="221"/><use href="#d" x="322" y="191"/><use href="#d" x="349" y="195"/><use href="#d" x="361" y="214"/><use href="#d" x="311" y="339"/><use href="#d" x="363" y="230"/><use href="#d" x="352" y="199"/><use href="#d" x="339" y="278"/><use href="#d" x="361" y="206"/><use href="#d" x="369" y="229"/><use href="#d" x="345" y="206"/><use href="#d" x="326" y="241"/><use href="#d" x="342" y="232"/><use href="#d" x="342" y="215"/><use href="#d" x="348" y="214"/><use href="#d" x="349" y="237"/><use href="#d" x="339" y="306"/><use href="#d" x="338" y="209"/><use href="#d" x="337" y="311"/><use href="#d" x="342" y="239"/><use href="#d" x="329" y="279"/><use href="#d" x="355" y="207"/><use href="#d" x="335" y="207"/><use href="#d" x="365" y="206"/><use href="#d" x="345" y="218"/><use href="#d" x="310" y="343"/><use href="#d" x="333" y="277"/><use href="#d" x="340" y="246"/><use href="#d" x="310" y="201"/><use href="#d" x="350" y="199"/><use href="#d" x="305" y="335"/><use href="#d" x="346" y="235"/><use href="#d" x="331" y="247"/><use href="#d" x="313" y="361"/><use href="#d" x="354" y="210"/><use href="#d" x="348" y="225"/><use href="#d" x="340" y="278"/><use href="#d" x="362" y="216"/><use href="#d" x="340" y="241"/><use href="#d" x="345" y="242"/><use href="#d" x="348" y="197"/><use href="#d" x="328" y="212"/><use href="#d" x="346" y="230"/><use href="#d" x="365" y="217"/><use href="#d" x="353" y="230"/><use href="#d" x="338" y="247"/><use href="#d" x="329" y="293"/><use href="#d" x="368" y="223"/><use href="#d" x="335" y="306"/><use href="#d" x="329" y="260"/><use href="#d" x="344" y="199"/><use href="#d" x="339" y="278"/><use href="#d" x="338" y="198"/><use href="#d" x="353" y="204"/><use href="#d" x="321" y="196"/><use href="#d" x="327" y="276"/><use href="#d" x="328" y="218"/><use href="#d" x="311" y="336"/><use href="#d" x="342" y="299"/><use href="#d" x="338" y="268"/><use href="#d" x="337" y="240"/><use href="#d" x="352" y="226"/><use href="#d" x="339" y="229"/><use href="#d" x="358" y="229"/><use href="#d" x="305" y="340"/><use href="#d" x="335" y="216"/><use href="#d" x="342" y="292"/><use href="#d" x="335" y="277"/><use href="#d" x="374" y="221"/><use href="#d" x="330" y="202"/><use href="#d" x="311" y="339"/><use href="#d" x="365" y="205"/><use href="#d" x="345" y="204"/><use href="#d" x="344" y="234"/><use href="#d" x="364" y="212"/><use href="#d" x="348" y="234"/><use href="#d" x="350" y="226"/><use href="#d" x="336" y="213"/><use href="#d" x="359" y="226"/><use href="#d" x="334" y="288"/><use href="#d" x="343" y="241"/><use href="#d" x="334" y="286"/><use href="#d" x="349" y="210"/><use href="#d" x="347" y="310"/><use href="#d" x="348" y="213"/><use href="#d" x="355" y="208"/><use href="#d" x="350" y="219"/><use href="#d" x="346" y="230"/><use href="#d" x="344" y="227"/><use href="#d" x="360" y="221"/><use href="#d" x="352" y="202"/><use href="#d" x="363" y="205"/><use href="#d" x="331" y="223"/><use href="#d" x="337" y="272"/><use href="#d" x="339" y="280"/><use href="#d" x="337" y="244"/><use href="#d" x="336" y="240"/><use href="#d" x="368" y="216"/><use href="#d" x="314" y="340"/><use href="#d" x="363" y="211"/><use href="#d" x="336" y="310"/><use href="#d" x="332" y="204"/><use href="#d" x="319" y="300"/><use href="#d" x="329" y="218"/><use href="#d" x="352" y="275"/><use href="#d" x="358" y="226"/><use href="#d" x="339" y="278"/><use href="#d" x="339" y="305"/><use href="#d" x="326" y="246"/><use href="#d" x="329" y="207"/><use href="#d" x="349" y="208"/><use href="#d" x="339" y="275"/><use href="#d" x="335" y="310"/><use href="#d" x="343" y="245"/><use href="#d" x="334" y="198"/><use href="#d" x="343" y="226"/><use href="#d" x="366" y="202"/><use href="#d" x="337" y="250"/><use href="#d" x="339" y="236"/><use href="#d" x="313" y="195"/><use href="#d" x="357" y="195"/><use href="#d" x="355" y="226"/><use href="#d" x="305" y="336"/><use href="#d" x="335" y="207"/><use href="#d" x="356" y="191"/><use href="#d" x="332" y="249"/><use href="#d" x="366" y="213"/><use href="#d" x="351" y="213"/><use href="#d" x="367" y="209"/><use href="#d" x="325" y="231"/><use href="#d" x="371" y="219"/><use href="#d" x="345" y="254"/><use href="#d" x="334" y="311"/><use href="#d" x="363" y="196"/><use href="#d" x="348" y="220"/><use href="#d" x="328" y="239"/><use href="#d" x="328" y="223"/><use href="#d" x="351" y="222"/><use href="#d" x="338" y="256"/><use href="#d" x="340" y="240"/><use href="#d" x="329" y="322"/><use href="#d" x="351" y="207"/><use href="#d" x="311" y="344"/><use href="#d" x="369" y="187"/><use href="#d" x="364" y="225"/><use href="#d" x="340" y="285"/><use href="#d" x="342" y="251"/><use href="#d" x="368" y="214"/><use href="#d" x="332" y="229"/><use href="#d" x="343" y="207"/><use href="#d" x="353" y="286"/><use href="#d" x="350" y="212"/><use href="#d" x="353" y="228"/><use href="#d" x="332" y="253"/><use href="#d" x="337" y="220"/><use href="#d" x="341" y="262"/><use href="#d" x="354" y="297"/><use href="#d" x="342" y="262"/><use href="#d" x="341" y="261"/><use href="#d" x="327" y="217"/><use href="#d" x="345" y="213"/><use href="#d" x="346" y="208"/><use href="#d" x="336" y="196"/><use href="#d" x="346" y="214"/><use href="#d" x="364" y="219"/><use href="#d" x="344" y="216"/><use href="#d" x="357" y="298"/><use href="#d" x="347" y="301"/><use href="#d" x="372" y="210"/><use href="#d" x="359" y="194"/><use href="#d" x="318" y="203"/><use href="#d" x="340" y="232"/><use href="#d" x="363" y="226"/><use href="#d" x="361" y="194"/><use href="#d" x="357" y="212"/><use href="#d" x="326" y="265"/><use href="#d" x="350" y="309"/><use href="#d" x="360" y="199"/><use href="#d" x="335" y="248"/><use href="#d" x="360" y="223"/><use href="#d" x="317" y="343"/><use href="#d" x="344" y="190"/><use href="#d" x="329" y="213"/><use href="#d" x="336" y="241"/><use href="#d" x="361" y="201"/><use href="#d" x="346" y="232"/><use href="#d" x="329" y="208"/><use href="#d" x="337" y="218"/><use href="#d" x="329" y="218"/><use href="#d" x="352" y="233"/><use href="#d" x="348" y="205"/><use href="#d" x="345" y="197"/><use href="#d" x="320" y="201"/><use href="#d" x="355" y="198"/><use href="#d" x="323" y="197"/><use href="#d" x="320" y="317"/><use href="#d" x="325" y="250"/><use href="#d" x="353" y="210"/><use href="#d" x="352" y="204"/><use href="#d" x="362" y="201"/><use href="#d" x="324" y="223"/><use href="#d" x="347" y="212"/><use href="#d" x="353" y="199"/><use href="#d" x="331" y="251"/><use href="#d" x="338" y="304"/><use href="#d" x="321" y="215"/><use href="#d" x="319" y="217"/><use href="#d" x="331" y="235"/><use href="#d" x="348" y="239"/><use href="#d" x="345" y="214"/><use href="#d" x="354" y="196"/><use href="#d" x="340" y="213"/><use href="#d" x="308" y="360"/><use href="#d" x="353" y="231"/><use href="#d" x="314" y="233"/><use href="#d" x="345" y="238"/><use href="#d" x="347" y="236"/><use href="#d" x="373" y="197"/><use href="#d" x="337" y="273"/><use href="#d" x="316" y="211"/><use href="#d" x="351" y="237"/><use href="#d" x="346" y="304"/><use href="#d" x="340" y="205"/><use href="#d" x="348" y="253"/><use href="#d" x="370" y="208"/><use href="#d" x="333" y="317"/><use href="#d" x="335" y="272"/><use href="#d" x="324" y="241"/><use href="#d" x="335" y="232"/><use href="#d" x="346" y="213"/><use href="#d" x="327" y="239"/><use href="#d" x="304" y="344"/><use href="#d" x="321" y="235"/><use href="#d" x="304" y="353"/><use href="#d" x="357" y="210"/><use href="#d" x="373" y="186"/><use href="#d" x="348" y="208"/><use href="#d" x="339" y="278"/><use href="#d" x="332" y="271"/><use href="#d" x="351" y="227"/><use href="#d" x="343" y="234"/><use href="#d" x="330" y="235"/><use href="#d" x="346" y="296"/><use href="#d" x="310" y="353"/><use href="#d" x="335" y="206"/><use href="#d" x="333" y="275"/><use href="#d" x="344" y="214"/><use href="#d" x="351" y="239"/><use href="#d" x="343" y="242"/><use href="#d" x="356" y="193"/><use href="#d" x="358" y="222"/><use href="#d" x="330" y="220"/><use href="#d" x="355" y="196"/><use href="#d" x="354" y="199"/><use href="#d" x="356" y="210"/><use href="#d" x="346" y="202"/><use href="#d" x="324" y="243"/></g><g fill="#ff00ff"><use href="#s" x="365" y="248"/><use href="#s" x="358" y="214"/><use href="#s" x="405" y="287"/><use href="#s" x="403" y="294"/><use href="#s" x="366" y="226"/><use href="#s" x="373" y="223"/><use href="#s" x="354" y="247"/><use href="#s" x="363" y="217"/><use href="#s" x="357" y="190"/><use href="#s" x="364" y="247"/><use href="#s" x="368" y="229"/><use href="#s" x="369" y="245"/><use href="#s" x="376" y="195"/><use href="#s" x="518" y="319"/><use href="#s" x="397" y="290"/><use href="#s" x="363" y="237"/><use href="#s" x="367" y="245"/><use href="#s" x="354" y="206"/><use href="#s" x="359" y="213"/><use href="#s" x="355" y="242"/><use href="#s" x="363" y="248"/><use href="#s" x="369" y="245"/><use href="#s" x="354" y="245"/><use href="#s" x="375" y="217"/><use href="#s" x="373" y="217"/><use href="#s" x="367" y="232"/><use href="#s" x="369" y="221"/><use href="#s" x="367" y="256"/><use href="#s" x="400" y="284"/><use href="#s" x="363" y="228"/><use href="#s" x="380" y="219"/><use href="#s" x="398" y="278"/><use href="#s" x="403" y="290"/><use href="#s" x="362" y="220"/><use href="#s" x="373" y="227"/><use href="#s" x="352" y="249"/><use href="#s" x="358" y="238"/><use href="#s" x="375" y="229"/><use href="#s" x="379" y="199"/><use href="#s" x="361" y="232"/><use href="#s" x="365" y="238"/><use href="#s" x="362" y="251"/><use href="#s" x="373" y="214"/><use href="#s" x="354" y="254"/><use href="#s" x="360" y="240"/><use href="#s" x="373" y="213"/><use href="#s" x="400" y="283"/><use href="#s" x="369" y="228"/><use href="#s" x="364" y="246"/><use href="#s" x="372" y="253"/><use href="#s" x="356" y="258"/><use href="#s" x="376" y="210"/><use href="#s" x="370" y="233"/><use href="#s" x="376" y="204"/><use href="#s" x="359" y="250"/><use href="#s" x="403" y="291"/><use href="#s" x="382" y="301"/><use href="#s" x="371" y="220"/><use href="#s" x="368" y="244"/><use href="#s" x="375" y="213"/><use href="#s" x="369" y="229"/><use href="#s" x="399" y="282"/><use href="#s" x="370" y="195"/><use href="#s" x="362" y="251"/><use href="#s" x="374" y="211"/><use href="#s" x="369" y="249"/><use href="#s" x="374" y="226"/><use href="#s" x="350" y="214"/><use href="#s" x="371" y="238"/><use href="#s" x="399" y="286"/><use href="#s" x="361" y="247"/><use href="#s" x="362" y="237"/><use href="#s" x="382" y="204"/><use href="#s" x="344" y="219"/><use href="#s" x="360" y="207"/></g>
<g fill="#ff0000"><use href="#d" x="351" y="225"/><use href="#d" x="343" y="223"/><use href="#d" x="346" y="220"/><use href="#d" x="350" y="225"/><use href="#d" x="319" y="243"/><use href="#d" x="333" y="275"/><use href="#d" x="317" y="248"/><use href="#d" x="348" y="224"/><use href="#d" x="364" y="207"/><use href="#d" x="338" y="241"/><use href="#d" x="335" y="275"/><use href="#d" x="371" y="220"/><use href="#d" x="344" y="211"/><use href="#d" x="357" y="233"/><use href="#d" x="337" y="211"/><use href="#d" x="342" y="234"/><use href="#d" x="357" y="218"/><use href="#d" x="355" y="218"/><use href="#d" x="361" y="210"/><use href="#d" x="343" y="227"/><use href="#d" x="352" y="209"/><use href="#d" x="330" y="202"/><use href="#d" x="349" y="214"/><use href="#d" x="341" y="315"/><use href="#d" x="362" y="216"/><use href="#d" x="340" y="216"/><use href="#d" x="355" y="196"/><use href="#d" x="343" y="225"/><use href="#d" x="335" y="275"/><use href="#d" x="342" y="228"/><use href="#d" x="346" y="220"/><use href="#d" x="342" y="230"/><use href="#d" x="325" y="231"/><use href="#d" x="357" y="212"/><use href="#d" x="324" y="203"/><use href="#d" x="350" y="282"/><use href="#d" x="346" y="215"/><use href="#d" x="360" y="220"/><use href="#d" x="353" y="226"/><use href="#d" x="350" y="304"/><use href="#d" x="350" y="237"/><use href="#d" x="349" y="195"/><use href="#d" x="332" y="341"/><use href="#d" x="364" y="196"/><use href="#d" x="350" y="197"/><use href="#d" x="370" y="217"/><use href="#d" x="336" y="268"/><use href="#d" x="303" y="360"/><use href="#d" x="318" y="248"/><use href="#d" x="330" y="221"/><use href="#d" x="333" y="221"/><use href="#d" x="349" y="228"/><use href="#d" x="351" y="207"/><use href="#d" x="328" y="284"/><use href="#d" x="335" y="243"/><use href="#d" x="330" y="248"/><use href="#d" x="342" y="222"/><use href="#d" x="337" y="243"/><use href="#d" x="324" y="222"/><use href="#d" x="349" y="228"/><use href="#d" x="356" y="193"/><use href="#d" x="357" y="218"/><use href="#d" x="338" y="276"/><use href="#d" x="336" y="238"/><use href="#d" x="316" y="216"/><use href="#d" x="316" y="351"/><use href="#d" x="320" y="243"/><use href="#d" x="319" y="237"/><use href="#d" x="326" y="250"/><use href="#d" x="350" y="231"/><use href="#d" x="338" y="279"/><use href="#d" x="332" y="249"/><use href="#d" x="333" y="283"/><use href="#d" x="354" y="231"/><use href="#d" x="330" y="241"/><use href="#d" x="349" y="196"/><use href="#d" x="345" y="201"/><use href="#d" x="312" y="198"/><use href="#d" x="343" y="237"/><use href="#d" x="347" y="227"/><use href="#d" x="349" y="210"/><use href="#d" x="335" y="241"/><use href="#d" x="362" y="230"/><use href="#d" x="326" y="292"/><use href="#d" x="318" y="249"/><use href="#d" x="340" y="220"/><use href="#d" x="352" y="221"/><use href="#d" x="319" y="246"/><use href="#d" x="361" y="210"/><use href="#d" x="370" y="215"/><use href="#d" x="311" y="346"/><use href="#d" x="352" y="224"/><use href="#d" x="335" y="227"/><use href="#d" x="342" y="221"/><use href="#d" x="333" y="256"/><use href="#d" x="337" y="306"/><use href="#d" x="353" y="201"/><use href="#d" x="358" y="212"/><use href="#d" x="348" y="207"/><use href="#d" x="351" y="234"/><use href="#d" x="335" y="199"/><use href="#d" x="351" y="197"/><use href="#d" x="340" y="275"/><use href="#d" x="357" y="206"/><use href="#d" x="351" y="296"/><use href="#d" x="337" y="228"/><use href="#d" x="325" y="202"/><use href="#d" x="329" y="237"/><use href="#d" x="340" y="308"/><use href="#d" x="365" y="202"/><use href="#d" x="364" y="216"/><use href="#d" x="361" y="200"/><use href="#d" x="346" y="233"/><use href="#d" x="368" y="212"/><use href="#d" x="328" y="246"/><use href="#d" x="351" y="226"/><use href="#d" x="337" y="194"/><use href="#d" x="358" y="217"/><use href="#d" x="368" y="217"/><use href="#d" x="331" y="276"/><use href="#d" x="373" y="204"/><use href="#d" x="340" y="235"/><use href="#d" x="341" y="216"/><use href="#d" x="372" y="221"/><use href="#d" x="363" y="205"/><use href="#d" x="336" y="218"/><use href="#d" x="343" y="223"/><use href="#d" x="345" y="241"/><use href="#d" x="350" y="215"/><use href="#d" x="339" y="279"/><use href="#d" x="353" y="219"/><use href="#d" x="338" y="247"/><use href="#d" x="346" y="242"/><use href="#d" x="334" y="291"/><use href="#d" x="333" y="273"/><use href="#d" x="351" y="224"/><use href="#d" x="346" y="321"/><use href="#d" x="340" y="283"/><use href="#d" x="356" y="236"/><use href="#d" x="350" y="259"/><use href="#d" x="317" y="238"/><use href="#d" x="349" y="264"/><use href="#d" x="356" y="223"/><use href="#d" x="360" y="192"/><use href="#d" x="358" y="209"/><use href="#d" x="354" y="222"/><use href="#d" x="341" y="313"/><use href="#d" x="363" y="192"/><use href="#d" x="345" y="216"/><use href="#d" x="338" y="206"/><use href="#d" x="347" y="190"/><use href="#d" x="338" y="241"/><use href="#d" x="337" y="275"/><use href="#d" x="342" y="219"/><use href="#d" x="353" y="210"/><use href="#d" x="347" y="262"/><use href="#d" x="345" y="238"/><use href="#d" x="323" y="236"/><use href="#d" x="330" y="222"/><use href="#d" x="338" y="217"/><use href="#d" x="358" y="203"/><use href="#d" x="341" y="319"/><use href="#d" x="354" y="218"/><use href="#d" x="339" y="304"/><use href="#d" x="333" y="273"/><use href="#d" x="365" y="201"/><use href="#d" x="363" y="204"/><use href="#d" x="351" y="192"/><use href="#d" x="330" y="237"/><use href="#d" x="351" y="284"/><use href="#d" x="338" y="287"/><use href="#d" x="342" y="245"/><use href="#d" x="356" y="222"/><use href="#d" x="358" y="221"/><use href="#d" x="341" y="288"/><use href="#d" x="341" y="211"/><use href="#d" x="355" y="208"/><use href="#d" x="327" y="214"/><use href="#d" x="341" y="226"/><use href="#d" x="318" y="245"/><use href="#d" x="353" y="217"/><use href="#d" x="338" y="208"/><use href="#d" x="340" y="224"/><use href="#d" x="343" y="196"/><use href="#d" x="360" y="199"/><use href="#d" x="343" y="225"/><use href="#d" x="354" y="200"/><use href="#d" x="336" y="284"/><use href="#d" x="336" y="248"/><use href="#d" x="329" y="241"/><use href="#d" x="332" y="245"/><use href="#d" x="364" y="210"/><use href="#d" x="341" y="247"/><use href="#d" x="339" y="219"/><use href="#d" x="351" y="200"/><use href="#d" x="341" y="278"/><use href="#d" x="349" y="239"/><use href="#d" x="300" y="350"/><use href="#d" x="342" y="241"/><use href="#d" x="350" y="210"/><use href="#d" x="350" y="201"/><use href="#d" x="334" y="339"/><use href="#d" x="358" y="261"/><use href="#d" x="348" y="319"/><use href="#d" x="358" y="261"/><use href="#d" x="338" y="262"/><use href="#d" x="373" y="212"/><use href="#d" x="356" y="201"/><use href="#d" x="350" y="230"/><use href="#d" x="349" y="226"/><use href="#d" x="339" y="282"/><use href="#d" x="341" y="303"/><use href="#d" x="357" y="210"/><use href="#d" x="323" y="214"/><use href="#d" x="338" y="209"/><use href="#d" x="326" y="238"/><use href="#d" x="355" y="205"/><use href="#d" x="338" y="274"/><use href="#d" x="349" y="225"/><use href="#d" x="329" y="249"/><use href="#d" x="344" y="222"/><use href="#d" x="346" y="202"/><use href="#d" x="303" y="360"/><use href="#d" x="338" y="226"/><use href="#d" x="337" y="299"/><use href="#d" x="314" y="199"/><use href="#d" x="326" y="279"/><use href="#d" x="352" y="229"/><use href="#d" x="322" y="236"/><use href="#d" x="344" y="312"/><use href="#d" x="362" y="219"/><use href="#d" x="353" y="260"/><use href="#d" x="343" y="234"/><use href="#d" x="358" y="217"/><use href="#d" x="337" y="312"/><use href="#d" x="339" y="231"/><use href="#d" x="312" y="345"/><use href="#d" x="350" y="230"/><use href="#d" x="324" y="224"/><use href="#d" x="342" y="203"/><use href="#d" x="318" y="213"/><use href="#d" x="356" y="214"/><use href="#d" x="336" y="274"/><use href="#d" x="346" y="234"/><use href="#d" x="343" y="296"/><use href="#d" x="321" y="237"/><use href="#d" x="373" y="207"/><use href="#d" x="327" y="247"/><use href="#d" x="357" y="211"/><use href="#d" x="326" y="221"/><use href="#d" x="348" y="204"/><use href="#d" x="352" y="209"/><use href="#d" x="333" y="340"/><use href="#d" x="352" y="212"/><use href="#d" x="340" y="232"/><use href="#d" x="320" y="252"/><use href="#d" x="321" y="217"/><use href="#d" x="363" y="205"/><use href="#d" x="336" y="209"/><use href="#d" x="339" y="277"/><use href="#d" x="365" y="212"/><use href="#d" x="325" y="298"/><use href="#d" x="362" y="206"/><use href="#d" x="341" y="278"/><use href="#d" x="344" y="230"/><use href="#d" x="327" y="223"/><use href="#d" x="336" y="278"/><use href="#d" x="326" y="217"/><use href="#d" x="305" y="334"/><use href="#d" x="331" y="221"/><use href="#d" x="362" y="199"/><use href="#d" x="343" y="228"/><use href="#d" x="365" y="199"/><use href="#d" x="355" y="208"/><use href="#d" x="342" y="225"/><use href="#d" x="345" y="214"/><use href="#d" x="337" y="247"/><use href="#d" x="337" y="262"/><use href="#d" x="313" y="225"/><use href="#d" x="361" y="220"/><use href="#d" x="343" y="207"/><use href="#d" x="355" y="227"/><use href="#d" x="317" y="247"/><use href="#d" x="307" y="362"/><use href="#d" x="354" y="210"/><use href="#d" x="334" y="248"/><use href="#d" x="334" y="286"/><use href="#d" x="357" y="308"/><use href="#d" x="325" y="254"/><use href="#d" x="320" y="222"/><use href="#d" x="332" y="337"/><use href="#d" x="345" y="209"/><use href="#d" x="360" y="235"/><use href="#d" x="312" y="334"/><use href="#d" x="351" y="229"/><use href="#d" x="337" y="206"/><use href="#d" x="353" y="229"/><use href="#d" x="360" y="215"/><use href="#d" x="346" y="236"/><use href="#d" x="318" y="236"/><use href="#d" x="355" y="206"/><use href="#d" x="333" y="314"/><use href="#d" x="330" y="249"/><use href="#d" x="330" y="260"/><use href="#d" x="331" y="207"/><use href="#d" x="352" y="205"/><use href="#d" x="351" y="223"/><use href="#d" x="339" y="215"/><use href="#d" x="330" y="281"/><use href="#d" x="370" y="212"/><use href="#d" x="333" y="242"/><use href="#d" x="331" y="201"/><use href="#d" x="343" y="208"/><use href="#d" x="356" y="217"/><use href="#d" x="343" y="237"/><use href="#d" x="332" y="250"/><use href="#d" x="368" y="231"/><use href="#d" x="367" y="231"/><use href="#d" x="354" y="223"/><use href="#d" x="340" y="244"/><use href="#d" x="351" y="227"/><use href="#d" x="347" y="211"/><use href="#d" x="347" y="213"/><use href="#d" x="350" y="216"/><use href="#d" x="343" y="232"/><use href="#d" x="340" y="221"/><use href="#d" x="335" y="236"/><use href="#d" x="339" y="196"/><use href="#d" x="348" y="289"/><use href="#d" x="359" y="192"/><use href="#d" x="351" y="225"/><use href="#d" x="339" y="274"/><use href="#d" x="344" y="195"/><use href="#d" x="347" y="234"/><use href="#d" x="332" y="215"/><use href="#d" x="349" y="208"/><use href="#d" x="357" y="238"/><use href="#d" x="358" y="218"/></g><g fill="#ff00ff"><use href="#s" x="373" y="214"/><use href="#s" x="339" y="210"/><use href="#s" x="371" y="212"/><use href="#s" x="374" y="200"/><use href="#s" x="369" y="218"/><use href="#s" x="370" y="220"/><use href="#s" x="340" y="206"/><use href="#s" x="379" y="207"/><use href="#s" x="365" y="215"/><use href="#s" x="371" y="230"/><use href="#s" x="364" y="243"/><use href="#s" x="370" y="231"/><use href="#s" x="373" y="237"/><use href="#s" x="408" y="291"/><use href="#s" x="365" y="247"/><use href="#s" x="380" y="212"/><use href="#s" x="358" y="222"/><use href="#s" x="364" y="225"/><use href="#s" x="398" y="282"/><use href="#s" x="372" y="246"/><use href="#s" x="343" y="206"/><use href="#s" x="363" y="244"/><use href="#s" x="364" y="237"/><use href="#s" x="367" y="252"/><use href="#s" x="363" y="231"/><use href="#s" x="363" y="231"/><use href="#s" x="362" y="234"/><use href="#s" x="358" y="220"/><use href="#s" x="375" y="207"/><use href="#s" x="372" y="220"/><use href="#s" x="371" y="194"/><use href="#s" x="371" y="250"/><use href="#s" x="376" y="216"/><use href="#s" x="408" y="292"/><use href="#s" x="367" y="253"/><use href="#s" x="396" y="286"/><use href="#s" x="361" y="237"/><use href="#s" x="349" y="199"/><use href="#s" x="366" y="207"/><use href="#s" x="347" y="217"/><use href="#s" x="371" y="213"/><use href="#s" x="349" y="217"/><use href="#s" x="368" y="217"/><use href="#s" x="367" y="239"/><use href="#s" x="375" y="230"/><use href="#s" x="367" y="250"/><use href="#s" x="402" y="288"/><use href="#s" x="377" y="207"/><use href="#s" x="353" y="239"/><use href="#s" x="515" y="319"/><use href="#s" x="380" y="208"/><use href="#s" x="369" y="248"/><use href="#s" x="368" y="231"/><use href="#s" x="369" y="209"/><use href="#s" x="357" y="235"/><use href="#s" x="353" y="247"/><use href="#s" x="368" y="234"/><use href="#s" x="363" y="249"/><use href="#s" x="516" y="321"/><use href="#s" x="371" y="200"/><use href="#s" x="364" y="239"/><use href="#s" x="282" y="63"/><use href="#s" x="237" y="132"/><use href="#s" x="354" y="140"/><use href="#s" x="380" y="142"/><use href="#s" x="36" y="195"/><use href="#s" x="179" y="210"/><use href="#s" x="242" y="179"/><use href="#s" x="265" y="197"/><use href="#s" x="290" y="175"/><use href="#s" x="326" y="175"/><use href="#s" x="347" y="172"/><use href="#s" x="319" y="188"/><use href="#s" x="338" y="187"/></g>
<g fill="#ff0000"><use href="#d" x="341" y="232"/><use href="#d" x="342" y="255"/><use href="#d" x="322" y="242"/><use href="#d" x="363" y="218"/><use href="#d" x="340" y="208"/><use href="#d" x="339" y="250"/><use href="#d" x="339" y="239"/><use href="#d" x="333" y="217"/><use href="#d" x="357" y="199"/><use href="#d" x="328" y="212"/><use href="#d" x="327" y="322"/><use href="#d" x="364" y="221"/><use href="#d" x="353" y="223"/><use href="#d" x="302" y="333"/><use href="#d" x="364" y="224"/><use href="#d" x="342" y="229"/><use href="#d" x="325" y="278"/><use href="#d" x="334" y="281"/><use href="#d" x="364" y="207"/><use href="#d" x="333" y="238"/><use href="#d" x="344" y="200"/><use href="#d" x="348" y="230"/><use href="#d" x="348" y="226"/><use href="#d" x="331" y="277"/><use href="#d" x="352" y="213"/><use href="#d" x="363" y="211"/><use href="#d" x="353" y="202"/><use href="#d" x="333" y="224"/><use href="#d" x="342" y="311"/><use href="#d" x="351" y="233"/><use href="#d" x="338" y="315"/><use href="#d" x="331" y="207"/><use href="#d" x="329" y="239"/><use href="#d" x="338" y="308"/><use href="#d" x="338" y="308"/><use href="#d" x="353" y="227"/><use href="#d" x="345" y="235"/><use href="#d" x="319" y="254"/><use href="#d" x="324" y="261"/><use href="#d" x="326" y="279"/><use href="#d" x="341" y="241"/><use href="#d" x="318" y="219"/><use href="#d" x="334" y="218"/><use href="#d" x="338" y="267"/><use href="#d" x="343" y="263"/><use href="#d" x="334" y="283"/><use href="#d" x="331" y="272"/><use href="#d" x="358" y="198"/><use href="#d" x="370" y="229"/><use href="#d" x="333" y="283"/><use href="#d" x="314" y="339"/><use href="#d" x="346" y="235"/><use href="#d" x="363" y="204"/><use href="#d" x="342" y="221"/><use href="#d" x="331" y="234"/><use href="#d" x="334" y="284"/><use href="#d" x="339" y="229"/><use href="#d" x="325" y="253"/><use href="#d" x="315" y="241"/><use href="#d" x="356" y="215"/><use href="#d" x="342" y="242"/><use href="#d" x="344" y="223"/><use href="#d" x="359" y="203"/><use href="#d" x="343" y="198"/><use href="#d" x="349" y="219"/><use href="#d" x="332" y="271"/><use href="#d" x="348" y="239"/><use href="#d" x="331" y="246"/><use href="#d" x="326" y="245"/><use href="#d" x="352" y="296"/><use href="#d" x="338" y="281"/><use href="#d" x="338" y="267"/><use href="#d" x="337" y="315"/><use href="#d" x="346" y="202"/><use href="#d" x="338" y="315"/><use href="#d" x="331" y="247"/><use href="#d" x="312" y="350"/><use href="#d" x="331" y="301"/><use href="#d" x="326" y="232"/><use href="#d" x="332" y="213"/><use href="#d" x="316" y="249"/><use href="#d" x="334" y="268"/><use href="#d" x="333" y="340"/><use href="#d" x="338" y="278"/><use href="#d" x="350" y="233"/><use href="#d" x="350" y="215"/><use href="#d" x="333" y="283"/><use href="#d" x="350" y="221"/><use href="#d" x="338" y="217"/><use href="#d" x="337" y="212"/><use href="#d" x="364" y="232"/><use href="#d" x="359" y="203"/><use href="#d" x="329" y="279"/><use href="#d" x="341" y="207"/><use href="#d" x="351" y="315"/><use href="#d" x="349" y="230"/><use href="#d" x="339" y="312"/><use href="#d" x="331" y="340"/><use href="#d" x="349" y="234"/><use href="#d" x="329" y="217"/><use href="#d" x="312" y="227"/><use href="#d" x="350" y="237"/><use href="#d" x="326" y="200"/><use href="#d" x="350" y="226"/><use href="#d" x="355" y="221"/><use href="#d" x="331" y="284"/><use href="#d" x="342" y="206"/><use href="#d" x="323" y="321"/><use href="#d" x="311" y="207"/><use href="#d" x="348" y="208"/><use href="#d" x="339" y="279"/><use href="#d" x="336" y="245"/><use href="#d" x="358" y="229"/><use href="#d" x="358" y="202"/><use href="#d" x="348" y="301"/><use href="#d" x="334" y="247"/><use href="#d" x="342" y="202"/><use href="#d" x="351" y="199"/><use href="#d" x="316" y="223"/><use href="#d" x="337" y="205"/><use href="#d" x="343" y="212"/><use href="#d" x="339" y="211"/><use href="#d" x="365" y="202"/><use href="#d" x="357" y="234"/><use href="#d" x="365" y="209"/><use href="#d" x="320" y="232"/><use href="#d" x="366" y="232"/><use href="#d" x="339" y="239"/><use href="#d" x="332" y="250"/><use href="#d" x="374" y="192"/><use href="#d" x="333" y="339"/><use href="#d" x="369" y="231"/><use href="#d" x="343" y="214"/><use href="#d" x="335" y="197"/><use href="#d" x="358" y="206"/><use href="#d" x="352" y="212"/><use href="#d" x="353" y="207"/><use href="#d" x="361" y="196"/><use href="#d" x="320" y="247"/><use href="#d" x="355" y="196"/><use href="#d" x="354" y="225"/><use href="#d" x="344" y="217"/><use href="#d" x="358" y="224"/><use href="#d" x="359" y="198"/><use href="#d" x="372" y="209"/><use href="#d" x="352" y="197"/><use href="#d" x="328" y="285"/><use href="#d" x="344" y="192"/><use href="#d" x="327" y="250"/><use href="#d" x="330" y="206"/><use href="#d" x="344" y="193"/><use href="#d" x="354" y="223"/><use href="#d" x="341" y="247"/><use href="#d" x="360" y="201"/><use href="#d" x="359" y="226"/><use href="#d" x="367" y="207"/><use href="#d" x="329" y="259"/><use href="#d" x="316" y="209"/><use href="#d" x="355" y="216"/><use href="#d" x="345" y="258"/><use href="#d" x="311" y="320"/><use href="#d" x="334" y="284"/><use href="#d" x="356" y="231"/><use href="#d" x="344" y="198"/><use href="#d" x="348" y="215"/><use href="#d" x="322" y="240"/><use href="#d" x="312" y="360"/><use href="#d" x="348" y="258"/><use href="#d" x="341" y="224"/><use href="#d" x="337" y="275"/><use href="#d" x="359" y="214"/><use href="#d" x="338" y="202"/><use href="#d" x="347" y="219"/><use href="#d" x="349" y="203"/><use href="#d" x="334" y="314"/><use href="#d" x="340" y="196"/><use href="#d" x="335" y="251"/><use href="#d" x="351" y="230"/><use href="#d" x="367" y="232"/><use href="#d" x="341" y="282"/><use href="#d" x="342" y="197"/><use href="#d" x="335" y="270"/><use href="#d" x="353" y="227"/><use href="#d" x="343" y="240"/><use href="#d" x="356" y="208"/><use href="#d" x="322" y="255"/><use href="#d" x="346" y="215"/><use href="#d" x="338" y="310"/><use href="#d" x="342" y="247"/><use href="#d" x="349" y="209"/><use href="#d" x="338" y="275"/><use href="#d" x="333" y="276"/><use href="#d" x="342" y="198"/><use href="#d" x="337" y="310"/><use href="#d" x="334" y="337"/><use href="#d" x="340" y="244"/><use href="#d" x="342" y="232"/><use href="#d" x="355" y="193"/><use href="#d" x="350" y="220"/><use href="#d" x="362" y="216"/><use href="#d" x="361" y="207"/><use href="#d" x="347" y="298"/><use href="#d" x="351" y="223"/><use href="#d" x="330" y="267"/><use href="#d" x="311" y="354"/><use href="#d" x="355" y="193"/><use href="#d" x="343" y="198"/><use href="#d" x="370" y="199"/><use href="#d" x="325" y="243"/><use href="#d" x="349" y="230"/><use href="#d" x="345" y="195"/><use href="#d" x="347" y="213"/><use href="#d" x="368" y="207"/><use href="#d" x="333" y="285"/><use href="#d" x="333" y="211"/><use href="#d" x="342" y="242"/><use href="#d" x="346" y="191"/><use href="#d" x="318" y="223"/><use href="#d" x="356" y="208"/><use href="#d" x="351" y="214"/><use href="#d" x="333" y="277"/><use href="#d" x="335" y="278"/><use href="#d" x="336" y="314"/><use href="#d" x="324" y="326"/><use href="#d" x="349" y="259"/><use href="#d" x="333" y="342"/><use href="#d" x="350" y="200"/><use href="#d" x="312" y="343"/><use href="#d" x="349" y="228"/><use href="#d" x="334" y="266"/><use href="#d" x="346" y="217"/><use href="#d" x="326" y="285"/><use href="#d" x="332" y="218"/><use href="#d" x="339" y="314"/><use href="#d" x="335" y="211"/><use href="#d" x="327" y="212"/><use href="#d" x="350" y="213"/><use href="#d" x="373" y="213"/><use href="#d" x="319" y="246"/><use href="#d" x="340" y="258"/><use href="#d" x="337" y="228"/><use href="#d" x="351" y="303"/><use href="#d" x="342" y="213"/><use href="#d" x="348" y="237"/><use href="#d" x="354" y="213"/><use href="#d" x="346" y="222"/><use href="#d" x="359" y="198"/><use href="#d" x="329" y="248"/><use href="#d" x="367" y="206"/><use href="#d" x="332" y="232"/><use href="#d" x="336" y="286"/><use href="#d" x="351" y="216"/><use href="#d" x="349" y="331"/><use href="#d" x="329" y="247"/><use href="#d" x="330" y="343"/><use href="#d" x="337" y="283"/><use href="#d" x="337" y="298"/><use href="#d" x="337" y="237"/><use href="#d" x="315" y="344"/><use href="#d" x="346" y="214"/><use href="#d" x="336" y="283"/><use href="#d" x="333" y="282"/><use href="#d" x="352" y="200"/><use href="#d" x="338" y="287"/><use href="#d" x="344" y="240"/><use href="#d" x="355" y="217"/><use href="#d" x="341" y="224"/><use href="#d" x="357" y="234"/><use href="#d" x="334" y="241"/><use href="#d" x="314" y="218"/><use href="#d" x="353" y="204"/><use href="#d" x="352" y="195"/><use href="#d" x="351" y="219"/><use href="#d" x="330" y="339"/><use href="#d" x="354" y="214"/><use href="#d" x="330" y="241"/><use href="#d" x="312" y="344"/><use href="#d" x="315" y="213"/><use href="#d" x="352" y="228"/><use href="#d" x="362" y="211"/><use href="#d" x="329" y="289"/><use href="#d" x="351" y="220"/><use href="#d" x="341" y="241"/><use href="#d" x="344" y="237"/><use href="#d" x="339" y="273"/><use href="#d" x="362" y="260"/><use href="#d" x="358" y="221"/><use href="#d" x="331" y="220"/><use href="#d" x="336" y="286"/><use href="#d" x="324" y="226"/><use href="#d" x="340" y="264"/><use href="#d" x="371" y="211"/><use href="#d" x="357" y="210"/><use href="#d" x="351" y="203"/><use href="#d" x="346" y="208"/><use href="#d" x="350" y="235"/><use href="#d" x="359" y="194"/><use href="#d" x="327" y="247"/><use href="#d" x="357" y="230"/><use href="#d" x="333" y="225"/><use href="#d" x="308" y="351"/><use href="#d" x="346" y="211"/><use href="#d" x="340" y="214"/><use href="#d" x="347" y="208"/><use href="#d" x="353" y="217"/><use href="#d" x="355" y="221"/><use href="#d" x="353" y="282"/><use href="#d" x="319" y="239"/><use href="#d" x="334" y="292"/><use href="#d" x="360" y="215"/><use href="#d" x="354" y="221"/><use href="#d" x="334" y="280"/><use href="#d" x="341" y="239"/><use href="#d" x="340" y="203"/><use href="#d" x="359" y="209"/><use href="#d" x="364" y="220"/><use href="#d" x="318" y="317"/><use href="#d" x="329" y="268"/><use href="#d" x="335" y="277"/><use href="#d" x="347" y="255"/><use href="#d" x="339" y="276"/><use href="#d" x="331" y="271"/><use href="#d" x="353" y="199"/><use href="#d" x="334" y="282"/><use href="#d" x="348" y="230"/><use href="#d" x="349" y="223"/><use href="#d" x="357" y="229"/><use href="#d" x="369" y="214"/><use href="#d" x="360" y="207"/><use href="#d" x="334" y="222"/><use href="#d" x="319" y="225"/><use href="#d" x="307" y="351"/><use href="#d" x="351" y="226"/><use href="#d" x="357" y="201"/><use href="#d" x="374" y="218"/><use href="#d" x="331" y="237"/><use href="#d" x="331" y="246"/></g><g fill="#ff00ff"><use href="#s" x="298" y="203"/><use href="#s" x="304" y="208"/><use href="#s" x="307" y="218"/><use href="#s" x="282" y="235"/><use href="#s" x="310" y="242"/><use href="#s" x="295" y="262"/><use href="#s" x="311" y="266"/><use href="#s" x="295" y="280"/><use href="#s" x="315" y="280"/><use href="#s" x="324" y="274"/><use href="#s" x="368" y="190"/><use href="#s" x="373" y="196"/><use href="#s" x="397" y="158"/><use href="#s" x="449" y="206"/><use href="#s" x="499" y="198"/><use href="#s" x="560" y="195"/><use href="#s" x="549" y="235"/><use href="#s" x="454" y="275"/><use href="#s" x="442" y="285"/><use href="#s" x="440" y="286"/><use href="#s" x="339" y="297"/><use href="#s" x="345" y="298"/><use href="#s" x="350" y="300"/><use href="#s" x="346" y="303"/><use href="#s" x="353" y="306"/><use href="#s" x="354" y="309"/><use href="#s" x="365" y="306"/><use href="#s" x="346" y="311"/><use href="#s" x="350" y="311"/><use href="#s" x="350" y="313"/><use href="#s" x="352" y="314"/><use href="#s" x="353" y="320"/><use href="#s" x="348" y="322"/><use href="#s" x="348" y="324"/><use href="#s" x="345" y="328"/><use href="#s" x="379" y="302"/><use href="#s" x="378" y="341"/><use href="#s" x="340" y="362"/><use href="#s" x="354" y="290"/><use href="#s" x="381" y="290"/><use href="#s" x="388" y="290"/><use href="#s" x="389" y="298"/><use href="#s" x="392" y="296"/><use href="#s" x="394" y="295"/><use href="#s" x="396" y="297"/><use href="#s" x="393" y="301"/><use href="#s" x="398" y="302"/><use href="#s" x="399" y="303"/><use href="#s" x="398" y="302"/><use href="#s" x="403" y="302"/><use href="#s" x="402" y="297"/><use href="#s" x="405" y="294"/><use href="#s" x="409" y="293"/><use href="#s" x="419" y="292"/><use href="#s" x="422" y="301"/><use href="#s" x="425" y="303"/><use href="#s" x="427" y="319"/><use href="#s" x="377" y="235"/><use href="#s" x="383" y="243"/><use href="#s" x="381" y="247"/><use href="#s" x="386" y="250"/><use href="#s" x="395" y="243"/><use href="#s" x="401" y="235"/><use href="#s" x="404" y="241"/><use href="#s" x="418" y="259"/><use href="#s" x="429" y="264"/><use href="#s" x="432" y="279"/><use href="#s" x="387" y="265"/><use href="#s" x="392" y="263"/><use href="#s" x="392" y="266"/><use href="#s" x="395" y="268"/><use href="#s" x="405" y="267"/><use href="#s" x="410" y="272"/><use href="#s" x="379" y="274"/><use href="#s" x="376" y="277"/></g>
<g fill="#ff0000"><use href="#d" x="342" y="263"/><use href="#d" x="341" y="281"/><use href="#d" x="320" y="206"/><use href="#d" x="353" y="201"/><use href="#d" x="351" y="195"/><use href="#d" x="329" y="223"/><use href="#d" x="373" y="214"/><use href="#d" x="362" y="204"/><use href="#d" x="339" y="304"/><use href="#d" x="374" y="210"/><use href="#d" x="357" y="224"/><use href="#d" x="362" y="202"/><use href="#d" x="335" y="269"/><use href="#d" x="343" y="214"/><use href="#d" x="343" y="238"/><use href="#d" x="346" y="223"/><use href="#d" x="363" y="206"/><use href="#d" x="346" y="227"/><use href="#d" x="338" y="305"/><use href="#d" x="339" y="286"/><use href="#d" x="343" y="218"/><use href="#d" x="339" y="218"/><use href="#d" x="329" y="247"/><use href="#d" x="366" y="199"/><use href="#d" x="359" y="233"/><use href="#d" x="316" y="250"/><use href="#d" x="340" y="216"/><use href="#d" x="352" y="198"/><use href="#d" x="363" y="209"/><use href="#d" x="350" y="226"/><use href="#d" x="340" y="235"/><use href="#d" x="341" y="217"/><use href="#d" x="315" y="191"/><use href="#d" x="336" y="315"/><use href="#d" x="369" y="229"/><use href="#d" x="320" y="243"/><use href="#d" x="355" y="236"/><use href="#d" x="337" y="311"/><use href="#d" x="337" y="267"/><use href="#d" x="338" y="213"/><use href="#d" x="359" y="297"/><use href="#d" x="337" y="235"/><use href="#d" x="335" y="288"/><use href="#d" x="337" y="266"/><use href="#d" x="351" y="212"/><use href="#d" x="343" y="227"/><use href="#d" x="328" y="236"/><use href="#d" x="349" y="226"/><use href="#d" x="331" y="223"/><use href="#d" x="340" y="230"/><use href="#d" x="343" y="287"/><use href="#d" x="351" y="221"/><use href="#d" x="331" y="263"/><use href="#d" x="338" y="211"/><use href="#d" x="367" y="220"/><use href="#d" x="343" y="199"/><use href="#d" x="342" y="281"/><use href="#d" x="357" y="198"/><use href="#d" x="345" y="216"/><use href="#d" x="354" y="218"/><use href="#d" x="356" y="257"/><use href="#d" x="339" y="308"/><use href="#d" x="356" y="237"/><use href="#d" x="332" y="285"/><use href="#d" x="355" y="200"/><use href="#d" x="354" y="288"/><use href="#d" x="340" y="247"/><use href="#d" x="334" y="241"/><use href="#d" x="350" y="238"/><use href="#d" x="367" y="204"/><use href="#d" x="334" y="223"/><use href="#d" x="339" y="215"/><use href="#d" x="349" y="199"/><use href="#d" x="346" y="195"/><use href="#d" x="334" y="269"/><use href="#d" x="332" y="262"/><use href="#d" x="368" y="217"/><use href="#d" x="350" y="215"/><use href="#d" x="351" y="262"/><use href="#d" x="361" y="233"/><use href="#d" x="326" y="246"/><use href="#d" x="341" y="216"/><use href="#d" x="365" y="216"/><use href="#d" x="359" y="210"/><use href="#d" x="361" y="208"/><use href="#d" x="341" y="208"/><use href="#d" x="345" y="196"/><use href="#d" x="337" y="210"/><use href="#d" x="348" y="204"/><use href="#d" x="351" y="237"/><use href="#d" x="351" y="220"/><use href="#d" x="335" y="282"/><use href="#d" x="373" y="198"/><use href="#d" x="356" y="201"/><use href="#d" x="350" y="192"/><use href="#d" x="350" y="228"/><use href="#d" x="326" y="225"/><use href="#d" x="349" y="204"/><use href="#d" x="353" y="204"/><use href="#d" x="327" y="225"/><use href="#d" x="361" y="227"/><use href="#d" x="308" y="330"/><use href="#d" x="352" y="232"/><use href="#d" x="364" y="205"/><use href="#d" x="345" y="221"/><use href="#d" x="365" y="234"/><use href="#d" x="347" y="215"/><use href="#d" x="344" y="233"/><use href="#d" x="341" y="265"/><use href="#d" x="338" y="276"/><use href="#d" x="332" y="217"/><use href="#d" x="363" y="210"/><use href="#d" x="333" y="230"/><use href="#d" x="354" y="236"/><use href="#d" x="369" y="208"/><use href="#d" x="310" y="347"/><use href="#d" x="345" y="258"/><use href="#d" x="357" y="195"/><use href="#d" x="342" y="237"/><use href="#d" x="337" y="316"/><use href="#d" x="336" y="225"/><use href="#d" x="339" y="267"/><use href="#d" x="350" y="238"/><use href="#d" x="358" y="192"/><use href="#d" x="366" y="233"/><use href="#d" x="344" y="247"/><use href="#d" x="334" y="278"/><use href="#d" x="369" y="211"/><use href="#d" x="345" y="231"/><use href="#d" x="327" y="251"/><use href="#d" x="342" y="236"/><use href="#d" x="347" y="213"/><use href="#d" x="374" y="212"/><use href="#d" x="327" y="251"/><use href="#d" x="309" y="346"/><use href="#d" x="311" y="363"/><use href="#d" x="319" y="216"/><use href="#d" x="349" y="321"/><use href="#d" x="344" y="228"/><use href="#d" x="333" y="245"/><use href="#d" x="355" y="196"/><use href="#d" x="342" y="314"/><use href="#d" x="351" y="223"/><use href="#d" x="336" y="226"/><use href="#d" x="323" y="195"/><use href="#d" x="350" y="200"/><use href="#d" x="357" y="316"/><use href="#d" x="334" y="271"/><use href="#d" x="366" y="215"/><use href="#d" x="342" y="225"/><use href="#d" x="335" y="281"/><use href="#d" x="322" y="244"/><use href="#d" x="333" y="281"/><use href="#d" x="347" y="237"/><use href="#d" x="330" y="251"/><use href="#d" x="338" y="227"/><use href="#d" x="329" y="207"/><use href="#d" x="344" y="245"/><use href="#d" x="339" y="305"/><use href="#d" x="363" y="200"/><use href="#d" x="339" y="286"/><use href="#d" x="329" y="251"/><use href="#d" x="334" y="210"/><use href="#d" x="343" y="200"/><use href="#d" x="357" y="226"/><use href="#d" x="353" y="194"/><use href="#d" x="329" y="290"/><use href="#d" x="322" y="232"/><use href="#d" x="322" y="226"/><use href="#d" x="370" y="213"/><use href="#d" x="351" y="258"/><use href="#d" x="348" y="226"/><use href="#d" x="354" y="309"/><use href="#d" x="341" y="220"/><use href="#d" x="351" y="196"/><use href="#d" x="339" y="210"/><use href="#d" x="257" y="111"/><use href="#d" x="252" y="117"/><use href="#d" x="292" y="123"/><use href="#d" x="389" y="141"/><use href="#d" x="397" y="145"/><use href="#d" x="387" y="147"/><use href="#d" x="335" y="150"/><use href="#d" x="318" y="157"/><use href="#d" x="289" y="181"/><use href="#d" x="292" y="185"/><use href="#d" x="300" y="190"/><use href="#d" x="308" y="188"/><use href="#d" x="316" y="186"/><use href="#d" x="284" y="192"/><use href="#d" x="279" y="197"/><use href="#d" x="275" y="199"/><use href="#d" x="307" y="199"/><use href="#d" x="280" y="205"/><use href="#d" x="298" y="208"/><use href="#d" x="309" y="208"/><use href="#d" x="291" y="219"/><use href="#d" x="294" y="223"/><use href="#d" x="301" y="226"/><use href="#d" x="304" y="226"/><use href="#d" x="311" y="228"/><use href="#d" x="275" y="251"/><use href="#d" x="295" y="249"/><use href="#d" x="283" y="262"/><use href="#d" x="283" y="266"/><use href="#d" x="209" y="293"/><use href="#d" x="294" y="293"/><use href="#d" x="304" y="289"/><use href="#d" x="378" y="155"/><use href="#d" x="496" y="203"/><use href="#d" x="480" y="207"/><use href="#d" x="482" y="216"/><use href="#d" x="482" y="216"/><use href="#d" x="484" y="216"/><use href="#d" x="478" y="220"/><use href="#d" x="486" y="221"/><use href="#d" x="487" y="223"/><use href="#d" x="484" y="224"/><use href="#d" x="480" y="225"/><use href="#d" x="483" y="227"/><use href="#d" x="490" y="228"/><use href="#d" x="495" y="227"/><use href="#d" x="503" y="227"/><use href="#d" x="483" y="229"/><use href="#d" x="485" y="231"/><use href="#d" x="484" y="232"/><use href="#d" x="527" y="230"/><use href="#d" x="488" y="242"/><use href="#d" x="490" y="246"/><use href="#d" x="487" y="251"/><use href="#d" x="509" y="248"/><use href="#d" x="506" y="256"/><use href="#d" x="506" y="256"/><use href="#d" x="527" y="257"/><use href="#d" x="509" y="263"/><use href="#d" x="490" y="271"/><use href="#d" x="500" y="286"/><use href="#d" x="348" y="295"/><use href="#d" x="366" y="295"/><use href="#d" x="364" y="299"/><use href="#d" x="353" y="299"/><use href="#d" x="360" y="302"/><use href="#d" x="359" y="303"/><use href="#d" x="355" y="306"/><use href="#d" x="357" y="314"/><use href="#d" x="361" y="315"/><use href="#d" x="358" y="329"/><use href="#d" x="336" y="339"/><use href="#d" x="336" y="343"/><use href="#d" x="403" y="328"/><use href="#d" x="397" y="341"/><use href="#d" x="394" y="361"/><use href="#d" x="413" y="307"/><use href="#d" x="417" y="305"/><use href="#d" x="357" y="291"/><use href="#d" x="351" y="290"/><use href="#d" x="378" y="249"/><use href="#d" x="374" y="245"/><use href="#d" x="394" y="258"/><use href="#d" x="367" y="263"/><use href="#d" x="363" y="263"/><use href="#d" x="425" y="269"/><use href="#d" x="427" y="287"/><use href="#d" x="407" y="278"/><use href="#d" x="411" y="286"/><use href="#d" x="411" y="289"/><use href="#d" x="394" y="287"/><use href="#d" x="400" y="285"/><use href="#d" x="400" y="285"/><use href="#d" x="363" y="282"/><use href="#d" x="357" y="285"/><use href="#d" x="347" y="284"/><use href="#d" x="350" y="290"/><use href="#d" x="357" y="291"/><use href="#d" x="348" y="295"/><use href="#d" x="366" y="295"/><use href="#d" x="364" y="299"/><use href="#d" x="360" y="302"/><use href="#d" x="353" y="299"/><use href="#d" x="349" y="301"/><use href="#d" x="86" y="381"/><use href="#d" x="176" y="318"/><use href="#d" x="179" y="321"/><use href="#d" x="183" y="413"/><use href="#d" x="187" y="314"/><use href="#d" x="190" y="303"/><use href="#d" x="198" y="299"/><use href="#d" x="201" y="303"/><use href="#d" x="195" y="308"/><use href="#d" x="195" y="314"/><use href="#d" x="196" y="313"/><use href="#d" x="192" y="322"/><use href="#d" x="206" y="316"/><use href="#d" x="238" y="311"/><use href="#d" x="248" y="312"/><use href="#d" x="273" y="303"/><use href="#d" x="257" y="327"/><use href="#d" x="261" y="332"/><use href="#d" x="273" y="339"/><use href="#d" x="286" y="344"/><use href="#d" x="195" y="387"/><use href="#d" x="210" y="391"/><use href="#d" x="209" y="406"/><use href="#d" x="211" y="412"/><use href="#d" x="208" y="425"/><use href="#d" x="318" y="365"/><use href="#d" x="309" y="383"/><use href="#d" x="331" y="384"/><use href="#d" x="291" y="394"/><use href="#d" x="349" y="405"/><use href="#d" x="354" y="370"/><use href="#d" x="351" y="377"/><use href="#d" x="403" y="328"/><use href="#d" x="397" y="341"/><use href="#d" x="433" y="355"/><use href="#d" x="394" y="361"/><use href="#d" x="393" y="377"/><use href="#d" x="430" y="385"/><use href="#d" x="539" y="370"/><use href="#d" x="470" y="313"/><use href="#d" x="479" y="314"/><use href="#d" x="525" y="445"/><use href="#d" x="475" y="489"/><use href="#d" x="437" y="498"/><use href="#d" x="450" y="498"/><use href="#d" x="439" y="544"/><use href="#d" x="487" y="251"/><use href="#d" x="506" y="256"/><use href="#d" x="506" y="257"/><use href="#d" x="527" y="257"/><use href="#d" x="509" y="263"/><use href="#d" x="490" y="271"/><use href="#d" x="586" y="296"/><use href="#d" x="385" y="148"/><use href="#d" x="387" y="152"/><use href="#d" x="387" y="152"/><use href="#d" x="388" y="155"/><use href="#d" x="375" y="154"/></g><g fill="#ff00ff"><use href="#s" x="372" y="279"/><use href="#s" x="375" y="281"/><use href="#s" x="372" y="285"/><use href="#s" x="378" y="286"/><use href="#s" x="381" y="289"/><use href="#s" x="388" y="290"/><use href="#s" x="389" y="277"/><use href="#s" x="386" y="280"/><use href="#s" x="387" y="284"/><use href="#s" x="398" y="277"/><use href="#s" x="403" y="276"/><use href="#s" x="408" y="280"/><use href="#s" x="399" y="281"/><use href="#s" x="396" y="284"/><use href="#s" x="419" y="292"/><use href="#s" x="409" y="293"/><use href="#s" x="389" y="298"/><use href="#s" x="392" y="296"/><use href="#s" x="394" y="295"/><use href="#s" x="396" y="297"/><use href="#s" x="402" y="297"/><use href="#s" x="393" y="301"/><use href="#s" x="398" y="302"/><use href="#s" x="399" y="303"/><use href="#s" x="404" y="302"/><use href="#s" x="422" y="301"/><use href="#s" x="425" y="303"/><use href="#s" x="379" y="302"/><use href="#s" x="365" y="306"/><use href="#s" x="353" y="306"/><use href="#s" x="345" y="298"/><use href="#s" x="346" y="302"/><use href="#s" x="350" y="286"/><use href="#s" x="354" y="290"/><use href="#s" x="363" y="288"/><use href="#s" x="347" y="255"/><use href="#s" x="362" y="262"/><use href="#s" x="354" y="260"/><use href="#s" x="355" y="277"/><use href="#s" x="353" y="280"/><use href="#s" x="356" y="282"/><use href="#s" x="57" y="446"/><use href="#s" x="269" y="344"/><use href="#s" x="282" y="352"/><use href="#s" x="312" y="349"/><use href="#s" x="350" y="368"/><use href="#s" x="348" y="375"/><use href="#s" x="345" y="381"/><use href="#s" x="348" y="381"/><use href="#s" x="345" y="383"/><use href="#s" x="372" y="380"/><use href="#s" x="366" y="393"/><use href="#s" x="373" y="388"/><use href="#s" x="373" y="390"/><use href="#s" x="370" y="397"/><use href="#s" x="375" y="405"/><use href="#s" x="351" y="409"/><use href="#s" x="378" y="341"/><use href="#s" x="379" y="388"/><use href="#s" x="376" y="405"/><use href="#s" x="408" y="371"/><use href="#s" x="409" y="375"/><use href="#s" x="408" y="379"/><use href="#s" x="427" y="319"/><use href="#s" x="381" y="442"/><use href="#s" x="512" y="318"/><use href="#s" x="511" y="318"/><use href="#s" x="512" y="317"/><use href="#s" x="515" y="320"/><use href="#s" x="517" y="322"/><use href="#s" x="520" y="322"/><use href="#s" x="519" y="321"/><use href="#s" x="523" y="326"/><use href="#s" x="524" y="330"/><use href="#s" x="521" y="337"/></g>
<path d="M336 290h3v1h-3zM336 294h3v1h-3zM335 291h1v3h-1zM339 291h1v3h-1z" fill="#ff0000" shape-rendering="crispEdges"/><rect x="336" y="291" width="3" height="3" fill="#fff" shape-rendering="crispEdges"/>
<path d="M26 445h2v1h-2zM28 444h3v1h-3zM28 472h2v1h-2zM31 443h4v1h-4zM32 469h2v1h-2zM34 241h2v1h-2zM35 442h3v1h-3zM38 441h2v1h-2zM38 467h2v1h-2zM40 440h2v1h-2zM40 469h2v1h-2zM41 465h2v1h-2zM43 438h2v1h-2zM43 467h2v1h-2zM46 436h2v1h-2zM48 435h2v1h-2zM49 452h2v1h-2zM51 433h2v1h-2zM52 450h2v1h-2zM54 431h2v1h-2zM55 448h2v1h-2zM57 429h2v1h-2zM57 447h2v1h-2zM58 366h2v1h-2zM59 428h2v1h-2zM60 365h2v1h-2zM60 445h2v1h-2zM61 427h2v1h-2zM62 364h3v1h-3zM63 200h2v1h-2zM63 426h2v1h-2zM63 443h2v1h-2zM65 199h2v1h-2zM65 363h2v1h-2zM65 425h2v1h-2zM66 441h2v1h-2zM67 362h2v1h-2zM67 424h2v1h-2zM68 197h2v1h-2zM68 440h2v1h-2zM69 361h3v1h-3zM69 423h2v1h-2zM71 195h2v1h-2zM71 422h2v1h-2zM71 438h2v1h-2zM72 360h2v1h-2zM73 194h2v1h-2zM73 421h2v1h-2zM73 442h2v1h-2zM74 359h2v1h-2zM74 436h2v1h-2zM75 420h2v1h-2zM75 441h2v1h-2zM76 358h2v1h-2zM76 435h2v1h-2zM77 419h2v1h-2zM77 440h3v1h-3zM78 357h2v1h-2zM79 418h2v1h-2zM79 433h2v1h-2zM80 356h2v1h-2zM80 439h3v1h-3zM81 417h2v1h-2zM82 355h2v1h-2zM82 431h2v1h-2zM83 416h2v1h-2zM83 438h2v1h-2zM84 354h2v1h-2zM84 430h2v1h-2zM85 415h2v1h-2zM85 437h3v1h-3zM86 353h2v1h-2zM87 414h2v1h-2zM88 352h2v1h-2zM88 436h2v1h-2zM89 413h2v1h-2zM90 351h2v1h-2zM90 435h2v1h-2zM91 412h2v1h-2zM92 350h2v1h-2zM92 434h3v1h-3zM93 411h2v1h-2zM94 349h2v1h-2zM95 433h2v1h-2zM96 348h2v1h-2zM97 432h2v1h-2zM98 347h2v1h-2zM99 431h6v1h-6zM101 345h2v1h-2zM104 343h2v1h-2zM105 379h3v1h-3zM105 430h10v1h-10zM108 340h2v1h-2zM108 380h5v1h-5zM110 403h2v1h-2zM112 337h2v1h-2zM112 402h2v1h-2zM113 381h6v1h-6zM115 429h6v1h-6zM118 332h2v1h-2zM119 380h5v1h-5zM120 446h2v1h-2zM122 329h2v1h-2zM124 328h3v1h-3zM124 379h2v1h-2zM126 378h2v1h-2zM126 441h2v1h-2zM127 327h2v1h-2zM128 440h2v1h-2zM129 273h5v1h-5zM129 326h2v1h-2zM131 325h2v1h-2zM133 145h2v1h-2zM134 374h3v1h-3zM135 322h2v1h-2zM135 376h2v1h-2zM136 143h2v1h-2zM137 373h5v1h-5zM137 375h2v1h-2zM138 142h3v1h-3zM139 374h2v1h-2zM141 141h3v1h-3zM142 372h2v1h-2zM143 280h2v1h-2zM144 140h2v1h-2zM144 371h2v1h-2zM145 281h2v1h-2zM146 370h2v1h-2zM148 369h2v1h-2zM150 135h2v1h-2zM150 368h2v1h-2zM152 367h2v1h-2zM158 516h3v1h-3zM161 515h3v1h-3zM163 516h2v1h-2zM166 64h2v1h-2zM168 63h3v1h-3zM168 441h2v1h-2zM171 62h3v1h-3zM171 272h2v1h-2zM173 273h2v1h-2zM174 61h7v1h-7zM175 274h2v1h-2zM177 275h2v1h-2zM177 467h2v1h-2zM179 276h3v1h-3zM181 60h9v1h-9zM182 277h3v1h-3zM183 146h2v1h-2zM185 278h4v1h-4zM187 151h2v1h-2zM189 279h2v1h-2zM190 59h2v1h-2zM197 330h2v1h-2zM214 292h2v1h-2zM214 295h3v1h-3zM217 296h4v1h-4zM218 295h2v1h-2zM220 297h3v1h-3zM221 545h2v1h-2zM223 335h2v1h-2zM226 337h2v1h-2zM228 338h2v1h-2zM230 364h2v1h-2zM232 365h2v1h-2zM235 232h4v1h-4zM236 182h2v1h-2zM236 258h3v1h-3zM238 183h2v1h-2zM239 259h3v1h-3zM241 271h2v1h-2zM242 260h2v1h-2zM243 270h4v1h-4zM244 209h2v1h-2zM246 208h3v1h-3zM247 269h3v1h-3zM254 210h2v1h-2zM258 207h2v1h-2zM260 204h2v1h-2zM260 205h2v1h-2zM260 223h2v1h-2zM260 312h2v1h-2zM262 222h2v1h-2zM262 285h2v1h-2zM262 313h3v1h-3zM264 221h2v1h-2zM264 284h2v1h-2zM265 314h2v1h-2zM266 218h2v1h-2zM268 219h2v1h-2zM270 220h2v1h-2zM270 282h9v1h-9zM278 224h4v1h-4zM280 226h4v1h-4zM281 212h2v1h-2zM282 207h2v1h-2zM285 205h2v1h-2zM285 209h2v1h-2zM288 203h2v1h-2zM292 232h3v1h-3zM293 231h3v1h-3zM312 323h2v1h-2zM314 322h2v1h-2zM316 312h2v1h-2zM318 314h2v1h-2zM322 287h2v1h-2zM322 288h2v1h-2zM323 285h2v1h-2zM324 282h2v1h-2zM325 277h2v1h-2zM328 257h2v1h-2zM328 258h2v1h-2zM403 255h3v1h-3zM406 254h5v1h-5zM411 253h3v1h-3zM414 252h2v1h-2zM417 413h2v1h-2zM418 249h2v1h-2zM419 412h2v1h-2zM421 247h2v1h-2zM425 244h2v1h-2zM429 241h2v1h-2zM432 239h2v1h-2zM436 236h2v1h-2zM440 233h2v1h-2zM444 230h2v1h-2zM448 227h2v1h-2zM459 214h2v1h-2zM460 213h2v1h-2zM488 345h2v1h-2zM497 335h2v1h-2zM500 333h2v1h-2zM503 331h2v1h-2zM505 330h2v1h-2zM506 329h2v1h-2zM507 328h3v1h-3zM508 327h3v1h-3zM521 304h2v1h-2zM528 305h2v1h-2zM530 377h2v1h-2zM533 379h2v1h-2zM536 287h2v1h-2zM536 381h2v1h-2zM538 166h2v1h-2zM538 286h2v1h-2zM539 383h2v1h-2zM540 165h3v1h-3zM540 285h2v1h-2zM541 236h2v1h-2zM541 384h2v1h-2zM542 284h4v1h-4zM543 164h3v1h-3zM543 385h2v1h-2zM545 280h2v1h-2zM545 386h2v1h-2zM546 163h3v1h-3zM546 283h3v1h-3zM547 231h2v1h-2zM547 387h2v1h-2zM549 162h4v1h-4zM549 282h3v1h-3zM549 388h2v1h-2zM550 293h2v1h-2zM551 228h2v1h-2zM552 281h2v1h-2zM552 292h2v1h-2zM553 161h3v1h-3zM553 227h2v1h-2zM553 391h2v1h-2zM554 291h2v1h-2zM555 226h3v1h-3zM556 160h3v1h-3zM556 276h2v1h-2zM556 290h2v1h-2zM558 225h2v1h-2zM558 275h2v1h-2zM558 285h2v1h-2zM558 289h2v1h-2zM559 159h3v1h-3zM559 194h3v1h-3zM560 224h2v1h-2zM561 193h6v1h-6zM561 283h2v1h-2zM562 158h2v1h-2zM562 223h2v1h-2zM563 222h2v1h-2zM564 157h2v1h-2zM565 221h2v1h-2zM566 156h2v1h-2zM567 192h5v1h-5zM567 220h2v1h-2zM568 155h2v1h-2zM568 275h3v1h-3zM570 154h2v1h-2zM570 274h2v1h-2zM571 273h2v1h-2zM572 153h2v1h-2zM572 191h4v1h-4zM573 268h2v1h-2zM573 272h2v1h-2zM575 151h2v1h-2zM575 267h2v1h-2zM576 190h3v1h-3zM576 270h2v1h-2zM577 150h2v1h-2zM578 265h2v1h-2zM578 269h2v1h-2zM579 149h2v1h-2zM579 189h3v1h-3zM580 271h2v1h-2zM581 148h2v1h-2zM582 188h3v1h-3zM583 262h2v1h-2zM584 146h2v1h-2zM585 187h2v1h-2zM585 261h2v1h-2zM585 267h2v1h-2zM587 260h2v1h-2zM587 266h2v1h-2zM588 143h2v1h-2zM589 265h2v1h-2zM590 183h2v1h-2zM591 141h2v1h-2zM591 264h2v1h-2zM593 140h2v1h-2zM26 474h1v1h-1zM27 473h1v1h-1zM30 247h1v2h-1zM30 471h1v1h-1zM31 245h1v2h-1zM31 470h1v1h-1zM32 243h1v2h-1zM33 242h1v1h-1zM34 468h1v1h-1zM35 467h1v1h-1zM36 240h1v1h-1zM36 466h1v1h-1zM37 239h1v1h-1zM37 465h1v1h-1zM37 468h1v1h-1zM38 464h1v1h-1zM39 463h1v1h-1zM39 470h1v1h-1zM40 462h1v1h-1zM40 466h1v1h-1zM41 460h1v2h-1zM42 439h1v1h-1zM42 459h1v1h-1zM42 468h1v1h-1zM43 458h1v1h-1zM43 464h1v1h-1zM44 457h1v1h-1zM45 437h1v1h-1zM45 456h1v1h-1zM45 466h1v1h-1zM46 455h1v1h-1zM47 454h1v1h-1zM48 453h1v1h-1zM50 434h1v1h-1zM51 451h1v1h-1zM53 432h1v1h-1zM54 449h1v1h-1zM56 430h1v1h-1zM58 207h1v1h-1zM59 205h1v2h-1zM59 446h1v1h-1zM60 204h1v1h-1zM61 202h1v2h-1zM62 201h1v1h-1zM62 444h1v1h-1zM65 442h1v1h-1zM67 198h1v1h-1zM70 196h1v1h-1zM70 439h1v1h-1zM73 437h1v1h-1zM75 193h1v1h-1zM76 192h1v1h-1zM77 191h1v1h-1zM78 190h1v1h-1zM78 434h1v1h-1zM79 189h1v1h-1zM80 188h1v1h-1zM81 186h1v2h-1zM81 432h1v1h-1zM82 185h1v1h-1zM83 184h1v1h-1zM84 183h1v1h-1zM85 182h1v1h-1zM86 181h1v1h-1zM86 429h1v1h-1zM87 180h1v1h-1zM87 428h1v1h-1zM88 178h1v2h-1zM88 427h1v1h-1zM89 176h1v2h-1zM89 426h1v1h-1zM90 174h1v2h-1zM90 200h1v1h-1zM90 425h1v1h-1zM91 198h1v2h-1zM91 424h1v1h-1zM92 197h1v1h-1zM92 422h1v2h-1zM93 196h1v1h-1zM93 421h1v1h-1zM94 195h1v1h-1zM94 420h1v1h-1zM95 194h1v1h-1zM95 410h1v1h-1zM95 419h1v1h-1zM96 192h1v2h-1zM96 418h1v1h-1zM97 191h1v1h-1zM97 417h1v1h-1zM98 190h1v1h-1zM98 416h1v1h-1zM99 189h1v1h-1zM99 415h1v1h-1zM100 188h1v1h-1zM100 346h1v1h-1zM100 414h1v1h-1zM101 187h1v1h-1zM101 413h1v1h-1zM102 186h1v1h-1zM102 412h1v1h-1zM103 185h1v1h-1zM103 344h1v1h-1zM103 411h1v1h-1zM104 184h1v1h-1zM104 409h1v2h-1zM105 183h1v1h-1zM105 408h1v1h-1zM106 182h1v1h-1zM106 342h1v1h-1zM106 407h1v1h-1zM107 181h1v1h-1zM107 341h1v1h-1zM107 406h1v1h-1zM108 180h1v1h-1zM108 405h1v1h-1zM109 179h1v1h-1zM109 404h1v1h-1zM110 178h1v1h-1zM110 339h1v1h-1zM111 176h1v2h-1zM111 338h1v1h-1zM112 175h1v1h-1zM113 173h1v2h-1zM114 172h1v1h-1zM114 336h1v1h-1zM114 403h1v1h-1zM115 170h1v2h-1zM115 335h1v1h-1zM115 404h1v1h-1zM116 169h1v1h-1zM116 334h1v1h-1zM116 353h1v5h-1zM117 167h1v2h-1zM117 333h1v1h-1zM118 166h1v1h-1zM118 354h1v1h-1zM119 164h1v2h-1zM119 355h1v1h-1zM119 447h1v1h-1zM120 163h1v1h-1zM120 331h1v1h-1zM120 356h1v2h-1zM121 161h1v2h-1zM121 330h1v1h-1zM121 358h1v1h-1zM122 160h1v1h-1zM122 359h1v1h-1zM122 445h1v1h-1zM123 158h1v2h-1zM123 238h1v4h-1zM124 157h1v1h-1zM124 235h1v3h-1zM124 279h1v1h-1zM125 108h1v1h-1zM125 156h1v1h-1zM125 186h1v10h-1zM125 204h1v6h-1zM125 278h1v1h-1zM125 442h1v1h-1zM126 107h1v1h-1zM126 154h1v2h-1zM126 277h1v1h-1zM127 106h1v1h-1zM127 153h1v1h-1zM127 275h1v2h-1zM127 279h1v2h-1zM128 105h1v1h-1zM128 152h1v1h-1zM128 274h1v1h-1zM128 277h1v2h-1zM129 104h1v1h-1zM129 150h1v2h-1zM129 275h1v2h-1zM130 103h1v1h-1zM130 149h1v1h-1zM130 439h1v1h-1zM131 102h1v1h-1zM131 147h1v2h-1zM132 146h1v1h-1zM133 324h1v1h-1zM134 323h1v1h-1zM135 133h1v1h-1zM135 144h1v1h-1zM136 132h1v1h-1zM137 130h1v2h-1zM137 136h1v1h-1zM137 321h1v1h-1zM138 129h1v1h-1zM138 134h1v2h-1zM138 319h1v2h-1zM139 133h1v1h-1zM139 317h1v2h-1zM140 132h1v1h-1zM140 138h1v1h-1zM140 278h1v4h-1zM140 316h1v1h-1zM141 130h1v2h-1zM141 137h1v1h-1zM141 315h1v1h-1zM142 129h1v1h-1zM142 136h1v1h-1zM142 279h1v1h-1zM142 314h1v1h-1zM143 134h1v2h-1zM143 313h1v1h-1zM144 133h1v1h-1zM144 312h1v1h-1zM145 132h1v1h-1zM145 311h1v1h-1zM146 131h1v1h-1zM146 139h1v1h-1zM146 310h1v1h-1zM147 130h1v1h-1zM147 138h1v1h-1zM147 282h1v1h-1zM147 286h1v2h-1zM147 294h1v1h-1zM147 309h1v1h-1zM148 129h1v1h-1zM148 137h1v1h-1zM148 288h1v2h-1zM148 295h1v2h-1zM148 308h1v1h-1zM149 128h1v1h-1zM149 136h1v1h-1zM149 297h1v2h-1zM149 307h1v1h-1zM150 127h1v1h-1zM150 299h1v1h-1zM150 306h1v1h-1zM151 126h1v1h-1zM151 273h1v3h-1zM151 305h1v1h-1zM152 123h1v1h-1zM152 125h1v1h-1zM152 134h1v1h-1zM152 276h1v4h-1zM152 304h1v1h-1zM153 121h1v2h-1zM153 124h1v1h-1zM153 133h1v1h-1zM154 119h1v2h-1zM154 132h1v1h-1zM154 276h1v2h-1zM155 116h1v3h-1zM155 131h1v1h-1zM155 278h1v2h-1zM155 504h1v1h-1zM156 110h1v6h-1zM156 130h1v1h-1zM156 290h1v3h-1zM156 502h1v2h-1zM157 90h1v20h-1zM157 293h1v3h-1zM157 500h1v2h-1zM158 88h1v2h-1zM158 460h1v1h-1zM159 86h1v2h-1zM159 458h1v2h-1zM160 84h1v2h-1zM160 368h1v5h-1zM160 374h1v5h-1zM160 456h1v2h-1zM161 82h1v2h-1zM161 382h1v2h-1zM161 454h1v2h-1zM162 80h1v2h-1zM162 384h1v4h-1zM162 452h1v2h-1zM162 517h1v1h-1zM162 534h1v5h-1zM163 78h1v2h-1zM163 388h1v4h-1zM163 451h1v1h-1zM163 529h1v5h-1zM164 76h1v2h-1zM164 392h1v4h-1zM164 449h1v2h-1zM164 514h1v1h-1zM165 75h1v1h-1zM165 396h1v5h-1zM165 447h1v2h-1zM165 513h1v1h-1zM165 515h1v1h-1zM166 73h1v2h-1zM166 401h1v6h-1zM166 443h1v1h-1zM166 445h1v2h-1zM167 72h1v1h-1zM167 407h1v8h-1zM167 442h1v1h-1zM167 444h1v1h-1zM168 70h1v2h-1zM168 415h1v7h-1zM169 69h1v1h-1zM169 422h1v7h-1zM170 67h1v2h-1zM170 429h1v4h-1zM170 440h1v1h-1zM171 66h1v1h-1zM171 273h1v1h-1zM172 274h1v2h-1zM173 276h1v1h-1zM173 484h1v1h-1zM174 485h1v1h-1zM175 486h1v1h-1zM176 468h1v3h-1zM177 464h1v3h-1zM177 483h1v2h-1zM178 462h1v2h-1zM178 485h1v2h-1zM179 461h1v1h-1zM179 465h1v2h-1zM180 464h1v1h-1zM181 144h1v1h-1zM181 462h1v2h-1zM182 145h1v1h-1zM182 461h1v1h-1zM182 476h1v1h-1zM183 475h1v1h-1zM184 148h1v1h-1zM184 474h1v1h-1zM185 147h1v1h-1zM185 149h1v1h-1zM186 150h1v1h-1zM189 152h1v2h-1zM190 154h1v2h-1zM191 156h1v2h-1zM191 475h1v1h-1zM192 158h1v2h-1zM192 473h1v2h-1zM193 160h1v2h-1zM193 472h1v1h-1zM194 162h1v2h-1zM194 333h1v1h-1zM194 470h1v2h-1zM195 164h1v2h-1zM195 332h1v1h-1zM195 469h1v1h-1zM196 166h1v2h-1zM196 331h1v1h-1zM196 467h1v2h-1zM197 168h1v2h-1zM197 465h1v2h-1zM198 170h1v2h-1zM198 463h1v2h-1zM199 172h1v3h-1zM199 329h1v1h-1zM199 460h1v3h-1zM200 175h1v3h-1zM200 328h1v1h-1zM200 456h1v4h-1zM201 178h1v2h-1zM201 327h1v1h-1zM201 454h1v2h-1zM202 180h1v3h-1zM202 325h1v2h-1zM203 183h1v3h-1zM203 323h1v2h-1zM204 186h1v3h-1zM204 322h1v1h-1zM205 189h1v3h-1zM205 320h1v2h-1zM206 192h1v4h-1zM206 319h1v1h-1zM207 196h1v4h-1zM208 200h1v4h-1zM209 204h1v25h-1zM210 229h1v1h-1zM210 240h1v1h-1zM211 230h1v1h-1zM211 241h1v2h-1zM212 231h1v1h-1zM212 243h1v1h-1zM213 244h1v2h-1zM213 248h1v2h-1zM213 291h1v1h-1zM214 246h1v1h-1zM214 250h1v2h-1zM215 174h1v1h-1zM216 175h1v2h-1zM216 284h1v2h-1zM216 293h1v1h-1zM216 309h1v1h-1zM217 286h1v2h-1zM217 294h1v1h-1zM217 310h1v1h-1zM218 234h1v2h-1zM218 270h1v1h-1zM218 288h1v2h-1zM218 311h1v2h-1zM218 492h1v3h-1zM219 178h1v1h-1zM219 236h1v3h-1zM219 271h1v2h-1zM219 290h1v2h-1zM219 313h1v1h-1zM219 495h1v3h-1zM219 543h1v1h-1zM220 179h1v2h-1zM220 239h1v3h-1zM220 261h1v1h-1zM220 273h1v2h-1zM220 292h1v2h-1zM220 314h1v1h-1zM220 498h1v1h-1zM220 544h1v1h-1zM221 185h1v1h-1zM221 242h1v2h-1zM221 262h1v2h-1zM221 269h1v1h-1zM221 294h1v2h-1zM221 333h1v1h-1zM221 487h1v1h-1zM221 499h1v1h-1zM222 186h1v2h-1zM222 264h1v1h-1zM222 270h1v2h-1zM222 296h1v1h-1zM222 334h1v1h-1zM222 488h1v1h-1zM223 265h1v2h-1zM223 272h1v1h-1zM223 489h1v2h-1zM223 546h1v1h-1zM224 267h1v1h-1zM224 273h1v2h-1zM224 491h1v1h-1zM225 233h1v1h-1zM225 268h1v2h-1zM225 275h1v1h-1zM225 336h1v1h-1zM225 492h1v1h-1zM226 231h1v2h-1zM226 270h1v1h-1zM226 493h1v1h-1zM227 230h1v1h-1zM227 271h1v2h-1zM227 494h1v1h-1zM228 273h1v2h-1zM228 366h1v1h-1zM228 495h1v2h-1zM229 275h1v3h-1zM229 365h1v1h-1zM229 497h1v1h-1zM230 278h1v2h-1zM230 498h1v1h-1zM231 230h1v2h-1zM231 499h1v1h-1zM232 228h1v2h-1zM232 500h1v1h-1zM233 183h1v2h-1zM233 501h1v1h-1zM234 177h1v2h-1zM234 185h1v2h-1zM234 502h1v1h-1zM235 179h1v3h-1zM235 230h1v1h-1zM235 503h1v1h-1zM236 231h1v1h-1zM236 504h1v1h-1zM237 169h1v5h-1zM237 505h1v1h-1zM238 506h1v1h-1zM239 169h1v5h-1zM239 507h1v1h-1zM240 184h1v1h-1zM240 508h1v1h-1zM241 185h1v1h-1zM241 509h1v1h-1zM242 510h1v2h-1zM243 173h1v2h-1zM243 177h1v2h-1zM243 512h1v1h-1zM244 175h1v2h-1zM244 261h1v1h-1zM244 513h1v1h-1zM245 191h1v1h-1zM245 514h1v2h-1zM246 192h1v2h-1zM246 215h1v6h-1zM246 516h1v2h-1zM247 194h1v1h-1zM247 207h1v1h-1zM247 209h1v2h-1zM247 214h1v1h-1zM247 518h1v3h-1zM248 213h1v1h-1zM248 521h1v2h-1zM249 523h1v3h-1zM250 209h1v3h-1zM250 526h1v3h-1zM251 206h1v3h-1zM251 529h1v3h-1zM252 532h1v2h-1zM253 211h1v1h-1zM253 534h1v2h-1zM254 536h1v2h-1zM255 263h1v1h-1zM255 538h1v1h-1zM256 209h1v1h-1zM256 223h1v2h-1zM256 264h1v1h-1zM256 539h1v2h-1zM257 208h1v1h-1zM257 225h1v2h-1zM257 265h1v1h-1zM257 541h1v2h-1zM258 543h1v1h-1zM259 544h1v1h-1zM260 201h1v3h-1zM260 206h1v1h-1zM260 545h1v1h-1zM261 286h1v1h-1zM261 546h1v2h-1zM262 202h1v2h-1zM262 548h1v1h-1zM263 200h1v2h-1zM263 549h1v1h-1zM264 199h1v1h-1zM264 550h1v1h-1zM270 193h1v1h-1zM270 315h1v1h-1zM271 192h1v1h-1zM271 316h1v2h-1zM272 191h1v1h-1zM272 318h1v1h-1zM272 448h1v8h-1zM273 189h1v2h-1zM273 442h1v6h-1zM273 456h1v7h-1zM274 188h1v1h-1zM274 438h1v4h-1zM274 463h1v2h-1zM275 187h1v1h-1zM275 434h1v4h-1zM275 465h1v2h-1zM276 186h1v1h-1zM276 432h1v2h-1zM276 467h1v2h-1zM277 185h1v1h-1zM277 469h1v3h-1zM278 472h1v3h-1zM278 518h1v10h-1zM279 475h1v3h-1zM279 509h1v9h-1zM279 528h1v5h-1zM280 213h1v1h-1zM280 478h1v4h-1zM280 504h1v5h-1zM280 533h1v2h-1zM281 208h1v1h-1zM281 348h1v39h-1zM281 482h1v5h-1zM281 495h1v9h-1zM281 535h1v3h-1zM282 341h1v7h-1zM282 487h1v8h-1zM282 538h1v2h-1zM283 211h1v1h-1zM283 338h1v3h-1zM283 540h1v3h-1zM284 206h1v1h-1zM284 210h1v1h-1zM284 336h1v2h-1zM284 543h1v3h-1zM285 333h1v3h-1zM285 546h1v3h-1zM286 331h1v2h-1zM286 549h1v2h-1zM287 204h1v1h-1zM287 208h1v1h-1zM287 329h1v2h-1zM288 327h1v2h-1zM288 451h1v1h-1zM289 325h1v2h-1zM289 452h1v1h-1zM290 202h1v1h-1zM290 324h1v1h-1zM290 453h1v2h-1zM291 322h1v2h-1zM291 455h1v1h-1zM291 489h1v1h-1zM292 320h1v2h-1zM292 456h1v1h-1zM292 490h1v2h-1zM293 318h1v2h-1zM293 457h1v2h-1zM293 492h1v2h-1zM294 317h1v1h-1zM294 459h1v1h-1zM294 494h1v2h-1zM295 233h1v1h-1zM295 315h1v2h-1zM295 460h1v2h-1zM295 496h1v2h-1zM296 313h1v2h-1zM296 462h1v1h-1zM296 498h1v2h-1zM297 311h1v2h-1zM297 466h1v1h-1zM297 500h1v2h-1zM298 294h1v2h-1zM298 310h1v1h-1zM298 467h1v2h-1zM298 502h1v1h-1zM299 292h1v2h-1zM299 308h1v2h-1zM299 469h1v1h-1zM299 503h1v2h-1zM300 290h1v2h-1zM300 306h1v2h-1zM300 470h1v2h-1zM300 505h1v2h-1zM301 288h1v2h-1zM301 304h1v2h-1zM301 396h1v3h-1zM301 472h1v2h-1zM301 507h1v1h-1zM302 286h1v2h-1zM302 303h1v1h-1zM302 399h1v4h-1zM302 474h1v1h-1zM302 508h1v2h-1zM303 284h1v2h-1zM303 370h1v17h-1zM303 510h1v2h-1zM304 283h1v1h-1zM304 366h1v4h-1zM304 387h1v6h-1zM304 512h1v1h-1zM305 281h1v2h-1zM305 363h1v3h-1zM305 393h1v7h-1zM306 280h1v1h-1zM306 361h1v2h-1zM306 400h1v4h-1zM307 279h1v1h-1zM307 359h1v2h-1zM308 277h1v2h-1zM308 357h1v2h-1zM309 276h1v1h-1zM309 355h1v2h-1zM310 275h1v1h-1zM310 329h1v11h-1zM310 353h1v2h-1zM310 409h1v1h-1zM311 324h1v5h-1zM311 340h1v13h-1zM311 410h1v2h-1zM312 412h1v1h-1zM313 306h1v2h-1zM313 413h1v2h-1zM314 304h1v2h-1zM314 308h1v3h-1zM314 415h1v2h-1zM315 303h1v1h-1zM315 311h1v1h-1zM315 417h1v2h-1zM316 253h1v2h-1zM316 301h1v2h-1zM316 320h1v2h-1zM316 419h1v3h-1zM317 255h1v3h-1zM317 299h1v2h-1zM317 316h1v4h-1zM317 422h1v2h-1zM318 258h1v4h-1zM318 296h1v3h-1zM318 313h1v1h-1zM318 315h1v1h-1zM318 424h1v3h-1zM319 262h1v2h-1zM319 294h1v2h-1zM319 427h1v3h-1zM320 258h1v1h-1zM320 291h1v3h-1zM320 430h1v4h-1zM321 259h1v2h-1zM321 289h1v2h-1zM321 434h1v4h-1zM322 261h1v2h-1zM322 438h1v4h-1zM322 444h1v1h-1zM323 263h1v2h-1zM323 286h1v1h-1zM323 442h1v2h-1zM323 445h1v1h-1zM324 265h1v1h-1zM324 283h1v2h-1zM324 446h1v23h-1zM325 278h1v4h-1zM325 469h1v5h-1zM325 484h1v1h-1zM326 268h1v9h-1zM326 474h1v4h-1zM326 485h1v2h-1zM327 259h1v9h-1zM327 478h1v4h-1zM327 487h1v2h-1zM328 255h1v2h-1zM328 482h1v3h-1zM328 489h1v2h-1zM329 485h1v2h-1zM330 253h1v4h-1zM330 487h1v2h-1zM331 249h1v4h-1zM331 489h1v2h-1zM332 245h1v4h-1zM332 491h1v1h-1zM333 243h1v2h-1zM333 492h1v2h-1zM334 241h1v2h-1zM334 494h1v2h-1zM335 240h1v1h-1zM335 496h1v2h-1zM336 238h1v2h-1zM336 498h1v6h-1zM337 237h1v1h-1zM337 504h1v10h-1zM338 236h1v1h-1zM338 514h1v8h-1zM339 234h1v2h-1zM339 522h1v6h-1zM340 233h1v1h-1zM340 528h1v2h-1zM341 530h1v3h-1zM342 533h1v2h-1zM343 535h1v3h-1zM344 538h1v2h-1zM345 540h1v3h-1zM346 543h1v2h-1zM347 545h1v2h-1zM412 420h1v1h-1zM413 418h1v2h-1zM414 417h1v1h-1zM415 416h1v1h-1zM416 251h1v1h-1zM416 414h1v2h-1zM417 250h1v1h-1zM420 248h1v1h-1zM421 411h1v1h-1zM422 410h1v1h-1zM423 246h1v1h-1zM423 409h1v1h-1zM424 106h1v1h-1zM424 245h1v1h-1zM424 408h1v1h-1zM425 107h1v1h-1zM425 407h1v1h-1zM426 108h1v2h-1zM426 406h1v1h-1zM427 110h1v2h-1zM427 243h1v1h-1zM427 404h1v2h-1zM428 112h1v2h-1zM428 242h1v1h-1zM428 402h1v2h-1zM429 400h1v2h-1zM430 398h1v2h-1zM431 240h1v1h-1zM431 396h1v2h-1zM432 395h1v1h-1zM434 238h1v1h-1zM435 237h1v1h-1zM438 235h1v1h-1zM439 234h1v1h-1zM442 232h1v1h-1zM443 231h1v1h-1zM446 229h1v1h-1zM447 228h1v1h-1zM450 226h1v1h-1zM451 225h1v1h-1zM452 224h1v1h-1zM453 222h1v2h-1zM454 221h1v1h-1zM455 220h1v1h-1zM456 219h1v1h-1zM457 217h1v2h-1zM458 212h1v2h-1zM458 216h1v1h-1zM459 215h1v1h-1zM461 211h1v2h-1zM462 209h1v2h-1zM463 207h1v2h-1zM464 205h1v2h-1zM465 204h1v1h-1zM476 382h1v1h-1zM477 381h1v1h-1zM478 379h1v2h-1zM479 378h1v1h-1zM479 384h1v1h-1zM480 377h1v1h-1zM480 382h1v2h-1zM481 375h1v2h-1zM481 381h1v1h-1zM482 373h1v2h-1zM482 379h1v2h-1zM483 371h1v2h-1zM483 377h1v2h-1zM484 369h1v2h-1zM484 376h1v1h-1zM485 365h1v4h-1zM485 374h1v2h-1zM486 357h1v8h-1zM486 373h1v1h-1zM487 351h1v6h-1zM488 346h1v5h-1zM489 342h1v3h-1zM496 336h1v1h-1zM499 334h1v1h-1zM502 332h1v1h-1zM510 326h1v1h-1zM511 325h1v1h-1zM512 324h1v1h-1zM514 314h1v2h-1zM515 312h1v2h-1zM516 310h1v2h-1zM517 309h1v1h-1zM517 321h1v1h-1zM518 307h1v2h-1zM518 319h1v2h-1zM519 306h1v1h-1zM519 318h1v1h-1zM520 305h1v1h-1zM520 316h1v2h-1zM521 314h1v2h-1zM522 312h1v2h-1zM523 303h1v1h-1zM523 310h1v2h-1zM524 302h1v1h-1zM524 309h1v1h-1zM525 308h1v1h-1zM526 307h1v1h-1zM526 311h1v2h-1zM527 301h1v2h-1zM527 306h1v1h-1zM527 309h1v2h-1zM528 299h1v2h-1zM528 307h1v2h-1zM529 260h1v2h-1zM529 296h1v3h-1zM529 306h1v1h-1zM529 376h1v1h-1zM530 256h1v4h-1zM530 294h1v2h-1zM530 303h1v2h-1zM531 252h1v4h-1zM531 292h1v2h-1zM531 302h1v1h-1zM532 250h1v2h-1zM532 291h1v1h-1zM532 378h1v1h-1zM533 248h1v2h-1zM533 290h1v1h-1zM534 246h1v2h-1zM534 289h1v1h-1zM535 244h1v2h-1zM535 288h1v1h-1zM535 303h1v2h-1zM535 380h1v1h-1zM536 242h1v2h-1zM536 301h1v2h-1zM537 240h1v2h-1zM537 300h1v1h-1zM538 239h1v1h-1zM538 382h1v1h-1zM539 238h1v1h-1zM540 237h1v1h-1zM543 235h1v1h-1zM544 234h1v1h-1zM544 281h1v1h-1zM545 233h1v1h-1zM546 232h1v1h-1zM547 279h1v1h-1zM548 278h1v1h-1zM549 230h1v1h-1zM549 277h1v1h-1zM550 229h1v1h-1zM550 275h1v2h-1zM551 274h1v1h-1zM551 289h1v1h-1zM551 389h1v1h-1zM552 273h1v1h-1zM552 287h1v2h-1zM552 390h1v1h-1zM553 271h1v2h-1zM553 285h1v2h-1zM554 269h1v2h-1zM554 283h1v2h-1zM555 268h1v1h-1zM555 282h1v1h-1zM555 392h1v1h-1zM556 280h1v2h-1zM557 278h1v2h-1zM557 286h1v1h-1zM558 277h1v1h-1zM559 276h1v1h-1zM560 274h1v1h-1zM560 284h1v1h-1zM560 288h1v1h-1zM561 272h1v2h-1zM561 287h1v1h-1zM562 270h1v2h-1zM562 286h1v1h-1zM563 268h1v2h-1zM563 282h1v1h-1zM563 285h1v1h-1zM564 280h1v2h-1zM564 284h1v1h-1zM565 279h1v1h-1zM565 283h1v1h-1zM566 277h1v2h-1zM566 281h1v2h-1zM567 276h1v1h-1zM567 279h1v2h-1zM568 278h1v1h-1zM569 277h1v1h-1zM570 276h1v1h-1zM574 152h1v1h-1zM575 271h1v1h-1zM577 266h1v1h-1zM579 272h1v1h-1zM580 264h1v1h-1zM580 268h1v1h-1zM582 270h1v1h-1zM583 147h1v1h-1zM583 269h1v1h-1zM584 268h1v1h-1zM586 145h1v1h-1zM587 144h1v1h-1zM587 186h1v1h-1zM588 185h1v1h-1zM589 184h1v1h-1zM589 259h1v1h-1zM590 142h1v1h-1zM590 228h1v2h-1zM590 258h1v1h-1zM591 230h1v2h-1zM591 256h1v2h-1zM592 182h1v1h-1zM592 232h1v2h-1zM592 255h1v1h-1zM593 181h1v1h-1zM593 234h1v2h-1zM593 254h1v1h-1zM593 263h1v1h-1zM594 180h1v1h-1zM594 262h1v1h-1z" fill="#800000" shape-rendering="crispEdges"/>
<g shape-rendering="crispEdges" fill="#ffff00">
<rect x="90" y="41" width="1" height="126"/><rect x="89" y="167" width="1" height="255"/><rect x="88" y="422" width="1" height="127"/><rect x="405" y="41" width="1" height="509"/><rect x="25" y="432" width="571" height="1"/>
</g>
<path d="M231 390h2v1h-2zM233 391h3v1h-3zM236 392h3v1h-3zM239 393h4v1h-4zM243 394h3v1h-3zM246 395h3v1h-3zM249 396h3v1h-3zM252 397h3v1h-3zM255 398h4v1h-4zM259 399h3v1h-3zM262 400h4v1h-4zM265 401h3v1h-3zM268 402h3v1h-3zM271 403h4v1h-4zM275 404h3v1h-3zM278 405h3v1h-3zM281 406h3v1h-3zM284 407h3v1h-3zM287 408h4v1h-4zM291 409h3v1h-3zM294 410h3v1h-3zM297 411h3v1h-3zM300 412h3v1h-3zM303 413h4v1h-4zM307 414h3v1h-3zM310 415h3v1h-3zM313 416h3v1h-3zM316 417h3v1h-3zM319 418h4v1h-4zM323 419h3v1h-3zM326 103h2v1h-2zM326 420h3v1h-3zM328 104h4v1h-4zM329 421h3v1h-3zM332 105h3v1h-3zM332 422h3v1h-3zM335 106h4v1h-4zM335 423h4v1h-4zM339 107h3v1h-3zM339 424h3v1h-3zM342 108h4v1h-4zM342 425h3v1h-3zM345 426h2v1h-2zM346 109h3v1h-3zM349 110h4v1h-4zM353 111h3v1h-3zM356 112h4v1h-4zM360 113h3v1h-3zM363 114h4v1h-4zM367 115h3v1h-3zM370 116h4v1h-4zM374 117h4v1h-4zM378 118h3v1h-3zM381 119h3v1h-3zM384 120h3v1h-3zM387 121h3v1h-3zM390 122h3v1h-3zM393 123h3v1h-3zM396 124h3v1h-3zM399 125h2v1h-2zM401 126h3v1h-3zM404 127h3v1h-3zM407 128h3v1h-3zM410 129h3v1h-3zM413 130h3v1h-3zM416 131h3v1h-3zM419 132h3v1h-3zM422 133h3v1h-3zM425 134h2v1h-2zM231 389h1v1h-1zM232 386h1v3h-1zM233 383h1v3h-1zM234 380h1v3h-1zM235 377h1v3h-1zM236 374h1v3h-1zM237 371h1v3h-1zM238 368h1v3h-1zM239 365h1v3h-1zM240 362h1v3h-1zM241 359h1v3h-1zM242 356h1v3h-1zM243 353h1v3h-1zM244 350h1v3h-1zM245 347h1v3h-1zM246 343h1v4h-1zM247 340h1v3h-1zM248 337h1v3h-1zM249 334h1v3h-1zM250 331h1v3h-1zM251 328h1v3h-1zM252 325h1v3h-1zM253 322h1v3h-1zM254 319h1v3h-1zM255 316h1v3h-1zM256 313h1v3h-1zM257 310h1v3h-1zM258 307h1v3h-1zM259 304h1v3h-1zM260 301h1v3h-1zM261 298h1v3h-1zM262 294h1v4h-1zM263 291h1v3h-1zM264 288h1v3h-1zM264 403h1v2h-1zM265 285h1v3h-1zM265 402h1v1h-1zM266 282h1v3h-1zM266 396h1v4h-1zM267 279h1v3h-1zM267 393h1v3h-1zM268 276h1v3h-1zM268 390h1v3h-1zM269 273h1v3h-1zM269 386h1v4h-1zM270 270h1v3h-1zM270 383h1v3h-1zM271 267h1v3h-1zM271 380h1v3h-1zM272 264h1v3h-1zM272 377h1v3h-1zM273 261h1v3h-1zM273 373h1v4h-1zM274 258h1v3h-1zM274 370h1v3h-1zM275 255h1v3h-1zM275 367h1v3h-1zM276 252h1v3h-1zM276 364h1v3h-1zM277 249h1v3h-1zM277 360h1v4h-1zM278 246h1v3h-1zM278 357h1v3h-1zM279 243h1v3h-1zM279 354h1v3h-1zM280 240h1v3h-1zM280 350h1v4h-1zM281 237h1v3h-1zM281 347h1v3h-1zM282 234h1v3h-1zM282 344h1v3h-1zM283 231h1v3h-1zM283 341h1v3h-1zM284 228h1v3h-1zM284 337h1v4h-1zM285 225h1v3h-1zM285 334h1v3h-1zM286 222h1v3h-1zM286 331h1v3h-1zM287 219h1v3h-1zM287 328h1v3h-1zM288 216h1v3h-1zM288 324h1v4h-1zM289 213h1v3h-1zM289 321h1v3h-1zM290 210h1v3h-1zM290 318h1v3h-1zM291 207h1v3h-1zM291 314h1v4h-1zM292 204h1v3h-1zM292 311h1v3h-1zM293 201h1v3h-1zM293 308h1v3h-1zM294 198h1v3h-1zM294 305h1v3h-1zM295 195h1v3h-1zM295 301h1v4h-1zM296 192h1v3h-1zM296 298h1v3h-1zM297 189h1v3h-1zM297 296h1v2h-1zM298 186h1v3h-1zM298 294h1v2h-1zM299 183h1v3h-1zM299 290h1v4h-1zM300 180h1v3h-1zM300 287h1v3h-1zM301 177h1v3h-1zM301 284h1v3h-1zM302 174h1v3h-1zM302 280h1v4h-1zM303 171h1v3h-1zM303 277h1v3h-1zM304 168h1v3h-1zM304 274h1v3h-1zM305 165h1v3h-1zM305 270h1v4h-1zM306 162h1v3h-1zM306 267h1v3h-1zM307 159h1v3h-1zM307 264h1v3h-1zM308 156h1v3h-1zM308 260h1v4h-1zM309 153h1v3h-1zM309 257h1v3h-1zM310 150h1v3h-1zM310 254h1v3h-1zM311 146h1v4h-1zM311 250h1v4h-1zM312 143h1v3h-1zM312 247h1v3h-1zM313 140h1v3h-1zM313 244h1v3h-1zM314 137h1v3h-1zM314 240h1v4h-1zM315 134h1v3h-1zM315 237h1v3h-1zM316 131h1v3h-1zM316 234h1v3h-1zM317 128h1v3h-1zM317 230h1v4h-1zM318 125h1v3h-1zM318 227h1v3h-1zM319 123h1v2h-1zM319 224h1v3h-1zM320 120h1v3h-1zM320 220h1v4h-1zM321 117h1v3h-1zM321 217h1v3h-1zM322 114h1v3h-1zM322 214h1v3h-1zM323 111h1v3h-1zM323 210h1v4h-1zM324 108h1v3h-1zM324 207h1v3h-1zM325 105h1v3h-1zM325 204h1v3h-1zM326 104h1v1h-1zM326 200h1v4h-1zM327 197h1v3h-1zM328 194h1v3h-1zM329 190h1v4h-1zM330 187h1v3h-1zM331 184h1v3h-1zM332 180h1v4h-1zM333 177h1v3h-1zM334 174h1v3h-1zM335 170h1v4h-1zM336 167h1v3h-1zM337 164h1v3h-1zM338 160h1v4h-1zM339 157h1v3h-1zM340 154h1v3h-1zM341 150h1v4h-1zM342 148h1v2h-1zM343 146h1v2h-1zM344 142h1v4h-1zM345 138h1v4h-1zM346 134h1v4h-1zM346 425h1v1h-1zM347 131h1v3h-1zM347 421h1v4h-1zM348 127h1v4h-1zM348 417h1v4h-1zM349 123h1v4h-1zM349 414h1v3h-1zM350 119h1v4h-1zM350 410h1v4h-1zM351 117h1v2h-1zM351 406h1v4h-1zM352 403h1v3h-1zM353 399h1v4h-1zM354 395h1v4h-1zM355 391h1v4h-1zM356 388h1v3h-1zM357 384h1v4h-1zM358 380h1v4h-1zM359 377h1v3h-1zM360 373h1v4h-1zM361 369h1v4h-1zM362 366h1v3h-1zM363 362h1v4h-1zM364 358h1v4h-1zM365 355h1v3h-1zM366 351h1v4h-1zM367 347h1v4h-1zM368 343h1v4h-1zM369 340h1v3h-1zM370 336h1v4h-1zM371 332h1v4h-1zM372 329h1v3h-1zM373 325h1v4h-1zM374 321h1v4h-1zM375 319h1v2h-1zM376 317h1v2h-1zM377 314h1v3h-1zM378 311h1v3h-1zM379 307h1v4h-1zM380 304h1v3h-1zM381 294h1v2h-1zM381 301h1v3h-1zM382 290h1v4h-1zM382 298h1v3h-1zM383 287h1v3h-1zM383 296h1v2h-1zM384 283h1v4h-1zM385 280h1v3h-1zM386 276h1v4h-1zM387 273h1v3h-1zM388 269h1v4h-1zM389 266h1v3h-1zM390 262h1v4h-1zM391 259h1v3h-1zM392 255h1v4h-1zM393 252h1v3h-1zM394 248h1v4h-1zM395 245h1v3h-1zM396 241h1v4h-1zM397 238h1v3h-1zM398 234h1v4h-1zM399 231h1v3h-1zM400 227h1v4h-1zM401 224h1v3h-1zM402 220h1v4h-1zM403 217h1v3h-1zM404 213h1v4h-1zM405 210h1v3h-1zM406 206h1v4h-1zM407 203h1v3h-1zM408 199h1v4h-1zM409 196h1v3h-1zM410 192h1v4h-1zM411 189h1v3h-1zM412 185h1v4h-1zM413 182h1v3h-1zM414 178h1v4h-1zM415 175h1v3h-1zM416 171h1v4h-1zM417 168h1v3h-1zM418 164h1v4h-1zM419 161h1v3h-1zM420 157h1v4h-1zM421 146h1v2h-1zM421 154h1v3h-1zM422 144h1v2h-1zM422 150h1v4h-1zM423 141h1v3h-1zM423 148h1v2h-1zM424 138h1v3h-1zM425 136h1v2h-1zM426 135h1v1h-1z" fill="#000000" shape-rendering="crispEdges"/>
<g fill="#000" shape-rendering="crispEdges"><rect x="27" y="40" width="107" height="1"/><rect x="134" y="41" width="353" height="1"/><rect x="487" y="40" width="107" height="1"/><rect x="25" y="549" width="108" height="1"/><rect x="133" y="550" width="356" height="1"/><rect x="489" y="549" width="108" height="1"/><rect x="27" y="40" width="1" height="127"/><rect x="26" y="167" width="1" height="255"/><rect x="25" y="422" width="1" height="128"/><rect x="593" y="40" width="1" height="85"/><rect x="594" y="125" width="1" height="170"/><rect x="595" y="295" width="1" height="169"/><rect x="596" y="464" width="1" height="86"/><rect x="655" y="460" width="1" height="50"/><rect x="655" y="460" width="10" height="1"/><rect x="655" y="484" width="5" height="1"/><rect x="655" y="509" width="10" height="1"/></g>
<text x="213" y="20" font-size="14.5" textLength="194.5" lengthAdjust="spacingAndGlyphs" >2014 11/18 0:0 -- 2014 12/3 13:59</text><text x="12.5" y="45" font-size="13.5" textLength="12" lengthAdjust="spacingAndGlyphs" >37</text><text x="2.5" y="435.6" font-size="13.5" textLength="20.5" lengthAdjust="spacingAndGlyphs" >36.5</text><text x="76.5" y="564.7" font-size="13.5" textLength="26" lengthAdjust="spacingAndGlyphs" >137.5</text><text x="398.5" y="564.7" font-size="13.5" textLength="17.5" lengthAdjust="spacingAndGlyphs" >138</text><text x="638" y="86" font-size="13.5" textLength="69.5" lengthAdjust="spacingAndGlyphs" >M :-1 &lt;=&gt; 7.9</text><text x="666.5" y="111" font-size="13.5" textLength="12.5" lengthAdjust="spacingAndGlyphs" >M</text><text transform="translate(646,136) scale(0.88,1)" font-size="13.5" >7</text><text transform="translate(645,154) scale(0.88,1)" font-size="13.5" >6</text><text transform="translate(645,170) scale(0.88,1)" font-size="13.5" >5</text><text transform="translate(645,182) scale(0.88,1)" font-size="13.5" >4</text><text transform="translate(645,192) scale(0.88,1)" font-size="13.5" >3</text><text transform="translate(645,202) scale(0.88,1)" font-size="13.5" >2</text><text transform="translate(645,212) scale(0.88,1)" font-size="13.5" >1</text><text transform="translate(638.5,221) scale(0.88,1)" font-size="13.5" >0-</text><text x="656" y="244" font-size="13.5" textLength="39.5" lengthAdjust="spacingAndGlyphs" >DEPTH</text><text x="680" y="267" font-size="13.5" textLength="21.3" lengthAdjust="spacingAndGlyphs" >0km</text><text x="674.5" y="282" font-size="13.5" textLength="26.8" lengthAdjust="spacingAndGlyphs" >10km</text><text x="674.5" y="297" font-size="13.5" textLength="26.8" lengthAdjust="spacingAndGlyphs" >20km</text><text transform="translate(675,464) scale(0.88,1)" font-size="13.5" >0</text><text transform="translate(675,514) scale(0.88,1)" font-size="13.5" >7</text><text x="666" y="529.5" font-size="13.5" textLength="14.5" lengthAdjust="spacingAndGlyphs" >km</text><text x="644" y="548" font-size="13.5" textLength="42" lengthAdjust="spacingAndGlyphs" >N= 2373</text><text x="670.5" y="583" font-size="13.5" textLength="59" lengthAdjust="spacingAndGlyphs" font-style="italic" style="fill:#808080;stroke:#808080">|| SEIS-PC ||</text><g fill="none" stroke="#ff0000" stroke-width="1" shape-rendering="crispEdges"><circle cx="673.5" cy="131.5" r="7"/><circle cx="673.5" cy="151" r="5"/><circle cx="673.5" cy="165.5" r="3.3"/><circle cx="673.5" cy="177.5" r="2.3"/><circle cx="639.5" cy="270.5" r="5"/></g><g fill="#ff0000" shape-rendering="crispEdges"><use href="#d" x="673" y="187"/><use href="#d" x="673" y="197"/><use href="#d" x="673" y="207"/><use href="#d" x="673" y="215"/></g><rect x="634.5" y="280.5" width="10" height="10" fill="none" stroke="#ff00ff" shape-rendering="crispEdges"/><text transform="translate(255,416) scale(0.88,1)" font-size="13.5" >A</text><text transform="translate(352,114) scale(0.88,1)" font-size="13.5" >B</text>
</svg></body></html>
